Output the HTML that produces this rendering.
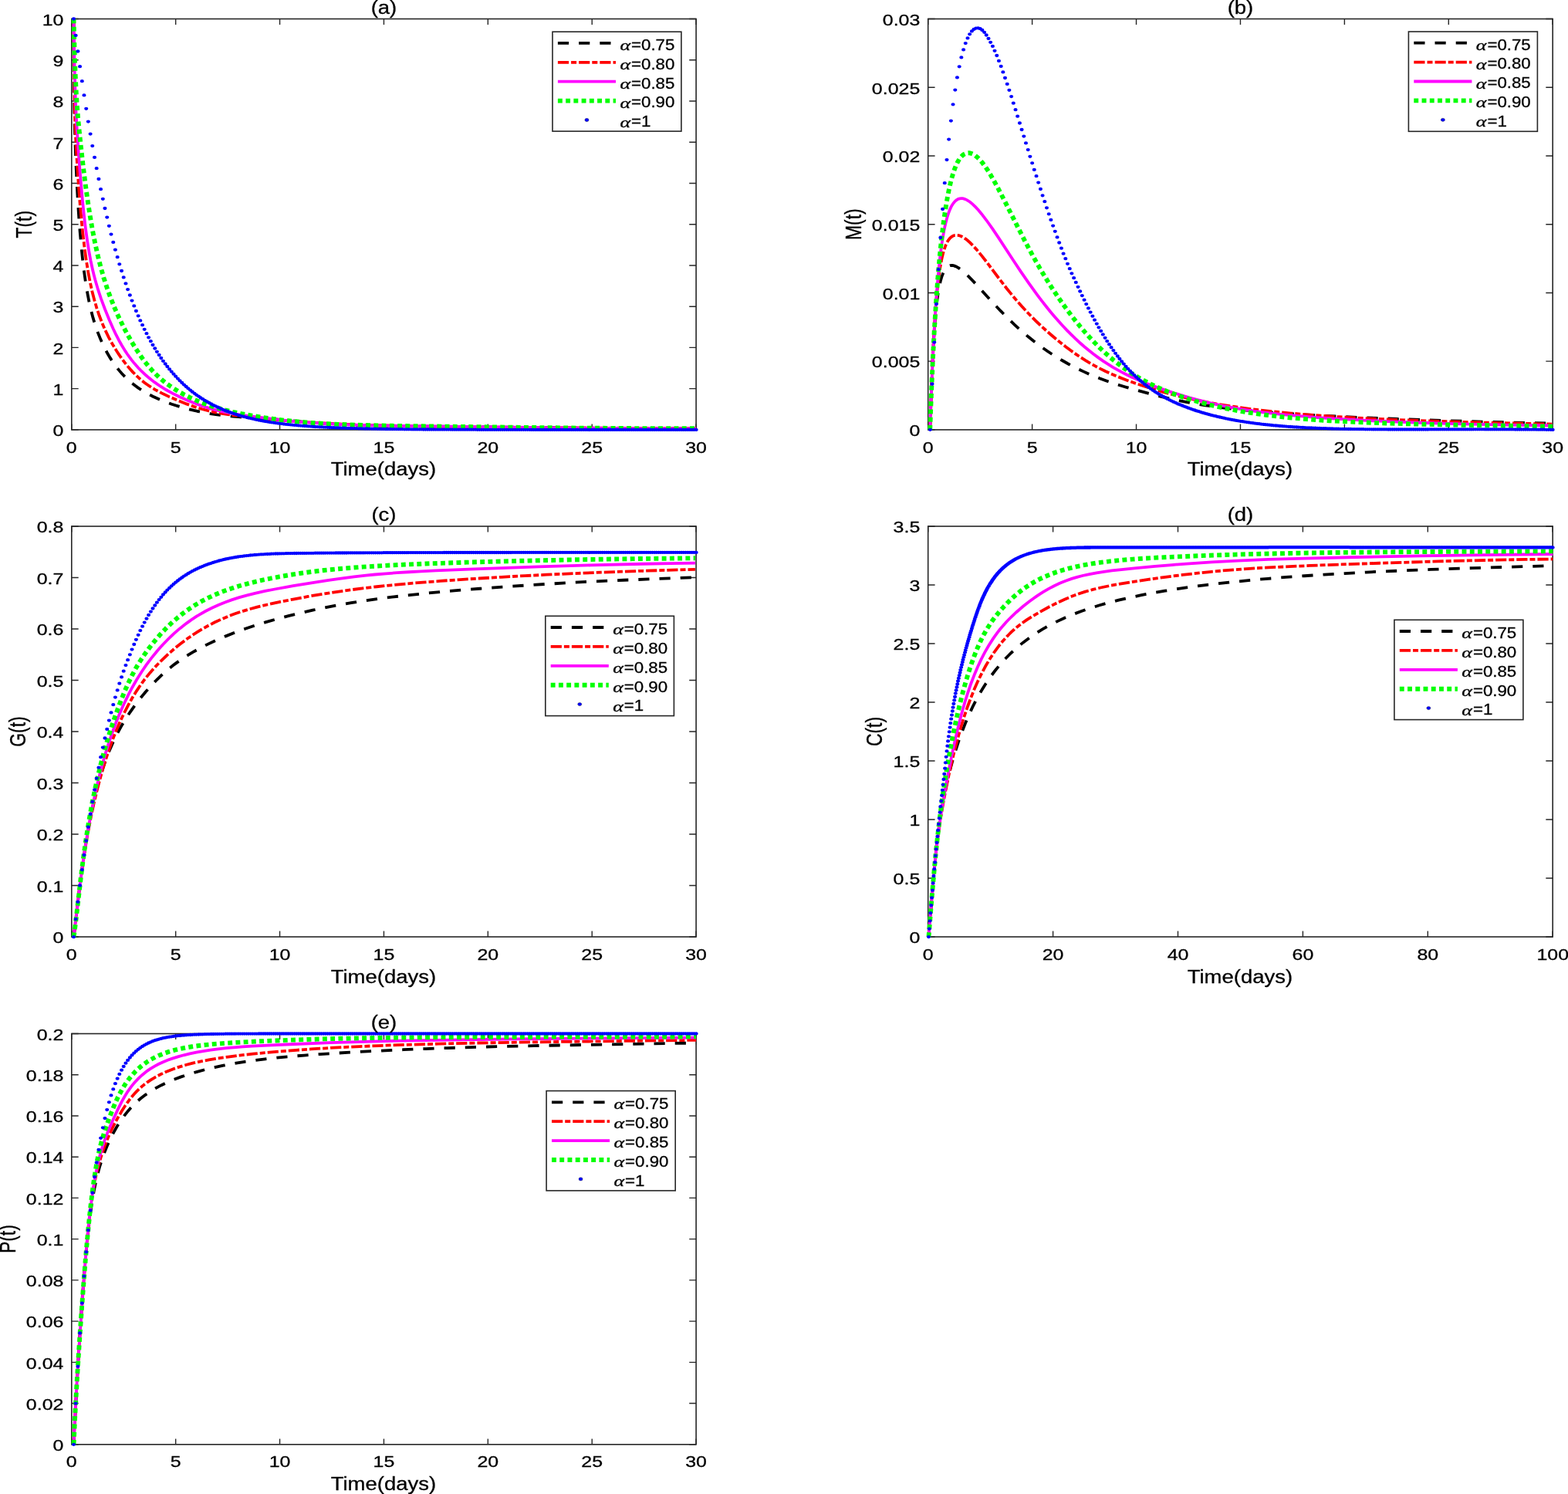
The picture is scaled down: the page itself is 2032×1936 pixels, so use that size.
<!DOCTYPE html>
<html lang="en"><head><meta charset="utf-8"><title>Figure</title>
<style>html,body{margin:0;padding:0;background:#fff}body{width:2032px;height:1936px;overflow:hidden}svg{display:block}</style>
</head><body>
<svg xmlns="http://www.w3.org/2000/svg" width="2032" height="1936" viewBox="0 0 2032 1936">
<rect width="2032" height="1936" fill="#fff"/>
<g>
<g>
<path d="M92.8 556.9v-7.4M92.8 24.5v7.4M227.68 556.9v-7.4M227.68 24.5v7.4M362.57 556.9v-7.4M362.57 24.5v7.4M497.45 556.9v-7.4M497.45 24.5v7.4M632.33 556.9v-7.4M632.33 24.5v7.4M767.22 556.9v-7.4M767.22 24.5v7.4M902.1 556.9v-7.4M902.1 24.5v7.4M92.8 556.9h8.88M902.1 556.9h-8.88M92.8 503.66h8.88M902.1 503.66h-8.88M92.8 450.42h8.88M902.1 450.42h-8.88M92.8 397.18h8.88M902.1 397.18h-8.88M92.8 343.94h8.88M902.1 343.94h-8.88M92.8 290.7h8.88M902.1 290.7h-8.88M92.8 237.46h8.88M902.1 237.46h-8.88M92.8 184.22h8.88M902.1 184.22h-8.88M92.8 130.98h8.88M902.1 130.98h-8.88M92.8 77.74h8.88M902.1 77.74h-8.88M92.8 24.5h8.88M902.1 24.5h-8.88" stroke="#262626" stroke-width="1.4" fill="none"/>
<rect x="92.8" y="24.5" width="809.3" height="532.4" fill="none" stroke="#262626" stroke-width="1.6"/>
<clipPath id="ca"><rect x="88.8" y="20.5" width="817.3" height="540.4"/></clipPath>
<g clip-path="url(#ca)">
<path d="M95.5 24.49L95.93 104.72L96.17 130.67L96.46 149.57L96.95 168.49L97.86 195.98L98.75 218.55L99.71 239.36L100.91 261.29L102.22 281.45L103.71 300.98L105.41 320.02L107.16 336.78L109.02 352.11L111.1 366.77L113.3 379.97L115.61 391.76L118 402.24L120.62 412.18L123.51 421.62L126.68 430.63L130.39 439.85L134.24 448.27L138.47 456.46L142.82 463.89L145.3 467.75L147.57 471.07L152.4 477.52L154.96 480.64L157.64 483.7L160.43 486.69L163.33 489.61L166.36 492.45L169.06 494.83L172.33 497.53L175.24 499.78L178.77 502.34L181.91 504.47L185.72 506.88L189.69 509.22L193.83 511.49L198.14 513.69L202.64 515.82L207.32 517.88L212.2 519.88L217.29 521.81L222.59 523.69L228.12 525.5L233.87 527.26L239.87 528.96L251.69 531.94L258.44 533.42L264.46 534.62L272.81 536.1L281.57 537.42L290.75 538.57L299.14 539.43L311.75 540.41L337.86 542L351.29 542.94L363.83 544.01L396.11 546.98L414.61 548.46L436.26 549.78L459.36 550.76L486.32 551.54L520.29 552.15L778.68 554.88L842.21 555.25L902 555.3" stroke="#000000" stroke-width="3.8" stroke-dasharray="14.2 13" fill="none"/>
<path d="M95.5 24.48L96.17 101.28L96.55 128.12L96.95 148.22L97.36 161.92L97.83 173.24L98.97 194.96L100.21 216.07L101.85 240.51L103.57 262.92L105.41 283.74L107.44 303.54L109.55 321.24L111.81 337.55L114.22 352.36L116.77 365.7L119.44 377.7L122.21 388.49L125.25 398.84L128.6 408.79L132.27 418.41L136.31 427.75L140.74 436.85L145.3 445.22L150.63 454.04L153.48 458.43L156.48 462.8L159.62 467.15L162.49 470.91L165.48 474.62L168.6 478.26L171.85 481.83L174.75 484.82L177.74 487.73L180.85 490.55L184.07 493.28L187.4 495.91L190.27 498.02L193.83 500.45L197.52 502.8L201.34 505.06L209.39 509.39L218.78 513.89L230.55 518.99L241.63 523.41L251.69 527L261.42 530.04L270.68 532.5L278.23 534.18L286.1 535.64L295.5 537.1L305.35 538.4L321.03 540.19L346.73 542.89L363.83 544.52L380.37 545.91L396.11 547.04L412.71 548.07L430.22 548.99L450.78 549.89L470.36 550.61L493.37 551.3L543.66 552.43L600.24 553.26L667.29 553.91L743.17 554.43L902 555.3" stroke="#ff0000" stroke-width="3.8" stroke-dasharray="14.2 3 7 3" fill="none"/>
<path d="M95.5 24.52L96.03 58.87L96.61 87.66L97.22 111.34L97.94 132.58L98.67 148.94L99.57 165.1L101.14 188.94L102.81 212.03L104.69 235.46L106.7 257.7L108.71 277.28L110.87 295.64L113.05 311.63L115.18 325.17L117.53 337.88L120.28 350.56L121.85 356.98L123.51 363.25L127.09 375.42L131.08 387.36L136.04 400.74L141.62 414.58L146.91 426.54L149.59 432.16L152.4 437.73L154.96 442.54L157.64 447.28L162.49 455.17L165.05 458.98L167.7 462.7L170.44 466.34L173.29 469.88L176.23 473.34L179.28 476.7L182.45 479.99L185.72 483.18L189.12 486.3L192.63 489.33L196.27 492.28L200.05 495.15L207.32 500.21L215.08 505.03L223.37 509.63L232.2 514.04L241.63 518.27L251.69 522.33L261.42 525.84L271.74 529.1L281.57 531.76L289.57 533.62L299.14 535.49L309.17 537.15L321.03 538.84L345.23 541.92L365.44 544.3L382.08 546.03L397.91 547.41L408.95 548.21L422.32 549.03L436.26 549.73L450.78 550.33L481.7 551.26L520.29 552.01L667.29 553.77L747.02 554.57L824.71 555.1L902 555.3" stroke="#ff00ff" stroke-width="3.8" fill="none"/>
<path d="M95.5 24.49L96.2 53.5L96.98 79.34L97.86 101.89L98.84 121.3L99.86 137.31L101.08 152.7L102.55 168.14L104.93 190.76L107.82 216.11L110.76 239.44L113.69 260.46L116.77 280.26L119.94 298.46L123.32 315.69L126.88 331.76L130.62 346.53L134.49 360.06L138.75 373.27L141.03 379.79L143.43 386.25L148.23 398.25L153.48 410.16L159.22 422.02L162.49 428.34L165.48 433.87L171.85 444.96L175.24 450.5L178.25 455.22L184.07 463.73L187.4 468.26L190.27 471.94L193.23 475.53L196.27 479.02L199.41 482.39L202.64 485.64L205.96 488.76L209.39 491.77L212.92 494.67L216.55 497.47L220.29 500.17L224.15 502.79L231.38 507.28L239 511.54L247.04 515.58L255.52 519.39L264.46 522.96L272.81 525.92L281.57 528.67L290.75 531.21L301.6 533.81L313.05 536.2L326.51 538.65L340.78 540.94L354.37 542.89L368.69 544.69L383.8 546.29L397.91 547.52L408.95 548.31L422.32 549.12L448.67 550.3L479.4 551.22L515.27 551.92L674.12 553.84L747.02 554.59L824.71 555.12L902 555.3" stroke="#00ff00" stroke-width="5.9" stroke-dasharray="5.9 4.34" fill="none"/>
<path transform="scale(1.2 1)" d="M79.6 24.5h0M81.8 45.9h0M84.1 66.5h0M86.3 86.2h0M88.6 105.2h0M90.8 123.4h0M93.1 140.8h0M95.3 157.6h0M97.6 173.6h0M99.8 189.1h0M102.1 203.9h0M104.3 218.2h0M106.6 232h0M108.8 245.2h0M111.1 257.8h0M113.3 270h0M115.6 281.6h0M117.8 292.8h0M120 303.6h0M122.3 313.9h0M124.5 323.7h0M126.8 333.2h0M129 342.3h0M131.3 351h0M133.5 359.4h0M135.8 367.4h0M138 375.1h0M140.3 382.5h0M142.5 389.6h0M144.8 396.4h0M147 403h0M149.3 409.3h0M151.5 415.4h0M153.8 421.2h0M156 426.8h0M158.3 432.2h0M160.5 437.3h0M162.8 442.2h0M165 447h0M167.3 451.5h0M169.5 455.8h0M171.8 460h0M174 464h0M176.2 467.8h0M178.5 471.5h0M180.7 475h0M183 478.4h0M185.2 481.6h0M187.5 484.7h0M189.7 487.7h0M192 490.6h0M194.2 493.3h0M196.5 496h0M198.7 498.6h0M201 501h0M203.2 503.3h0M205.5 505.6h0M207.7 507.7h0M210 509.8h0M212.2 511.8h0M214.5 513.6h0M216.7 515.5h0M219 517.2h0M221.2 518.9h0M223.5 520.5h0M225.7 522h0M228 523.5h0M230.2 524.9h0M232.4 526.2h0M234.7 527.5h0M236.9 528.7h0M239.2 529.9h0M241.4 531.1h0M243.7 532.2h0M245.9 533.2h0M248.2 534.2h0M250.4 535.1h0M252.7 536.1h0M254.9 536.9h0M257.2 537.8h0M259.4 538.6h0M261.7 539.4h0M263.9 540.1h0M266.2 540.8h0M268.4 541.5h0M270.7 542.1h0M272.9 542.7h0M275.2 543.3h0M277.4 543.9h0M279.7 544.5h0M281.9 545h0M284.2 545.5h0M286.4 546h0M288.7 546.4h0M290.9 546.9h0M293.1 547.3h0M295.4 547.7h0M297.6 548.1h0M299.9 548.4h0M302.1 548.8h0M304.4 549.1h0M306.6 549.5h0M308.9 549.8h0M311.1 550.1h0M313.4 550.3h0M315.6 550.6h0M317.9 550.9h0M320.1 551.1h0M322.4 551.4h0M324.6 551.6h0M326.9 551.8h0M329.1 552h0M331.4 552.2h0M333.6 552.4h0M335.9 552.6h0M338.1 552.8h0M340.4 553h0M342.6 553.1h0M344.9 553.3h0M347.1 553.4h0M349.3 553.6h0M351.6 553.7h0M353.8 553.8h0M356.1 554h0M358.3 554.1h0M360.6 554.2h0M362.8 554.3h0M365.1 554.4h0M367.3 554.5h0M369.6 554.6h0M371.8 554.7h0M374.1 554.8h0M376.3 554.9h0M378.6 555h0M380.8 555.1h0M383.1 555.1h0M385.3 555.2h0M387.6 555.3h0M389.8 555.3h0M392.1 555.4h0M394.3 555.5h0M396.6 555.5h0M398.8 555.6h0M401.1 555.6h0M403.3 555.7h0M405.5 555.7h0M407.8 555.8h0M410 555.8h0M412.3 555.9h0M414.5 555.9h0M416.8 556h0M419 556h0M421.3 556h0M423.5 556.1h0M425.8 556.1h0M428 556.1h0M430.3 556.2h0M432.5 556.2h0M434.8 556.2h0M437 556.3h0M439.3 556.3h0M441.5 556.3h0M443.8 556.3h0M446 556.4h0M448.3 556.4h0M450.5 556.4h0M452.8 556.4h0M455 556.4h0M457.3 556.5h0M459.5 556.5h0M461.8 556.5h0M464 556.5h0M466.2 556.5h0M468.5 556.5h0M470.7 556.6h0M473 556.6h0M475.2 556.6h0M477.5 556.6h0M479.7 556.6h0M482 556.6h0M484.2 556.6h0M486.5 556.6h0M488.7 556.7h0M491 556.7h0M493.2 556.7h0M495.5 556.7h0M497.7 556.7h0M500 556.7h0M502.2 556.7h0M504.5 556.7h0M506.7 556.7h0M509 556.7h0M511.2 556.7h0M513.5 556.7h0M515.7 556.8h0M518 556.8h0M520.2 556.8h0M522.4 556.8h0M524.7 556.8h0M526.9 556.8h0M529.2 556.8h0M531.4 556.8h0M533.7 556.8h0M535.9 556.8h0M538.2 556.8h0M540.4 556.8h0M542.7 556.8h0M544.9 556.8h0M547.2 556.8h0M549.4 556.8h0M551.7 556.8h0M553.9 556.8h0M556.2 556.8h0M558.4 556.8h0M560.7 556.8h0M562.9 556.8h0M565.2 556.8h0M567.4 556.8h0M569.7 556.8h0M571.9 556.8h0M574.2 556.9h0M576.4 556.9h0M578.6 556.9h0M580.9 556.9h0M583.1 556.9h0M585.4 556.9h0M587.6 556.9h0M589.9 556.9h0M592.1 556.9h0M594.4 556.9h0M596.6 556.9h0M598.9 556.9h0M601.1 556.9h0M603.4 556.9h0M605.6 556.9h0M607.9 556.9h0M610.1 556.9h0M612.4 556.9h0M614.6 556.9h0M616.9 556.9h0M619.1 556.9h0M621.4 556.9h0M623.6 556.9h0M625.9 556.9h0M628.1 556.9h0M630.4 556.9h0M632.6 556.9h0M634.9 556.9h0M637.1 556.9h0M639.3 556.9h0M641.6 556.9h0M643.8 556.9h0M646.1 556.9h0M648.3 556.9h0M650.6 556.9h0M652.8 556.9h0M655.1 556.9h0M657.3 556.9h0M659.6 556.9h0M661.8 556.9h0M664.1 556.9h0M666.3 556.9h0M668.6 556.9h0M670.8 556.9h0M673.1 556.9h0M675.3 556.9h0M677.6 556.9h0M679.8 556.9h0M682.1 556.9h0M684.3 556.9h0M686.6 556.9h0M688.8 556.9h0M691.1 556.9h0M693.3 556.9h0M695.5 556.9h0M697.8 556.9h0M700 556.9h0M702.3 556.9h0M704.5 556.9h0M706.8 556.9h0M709 556.9h0M711.3 556.9h0M713.5 556.9h0M715.8 556.9h0M718 556.9h0M720.3 556.9h0M722.5 556.9h0M724.8 556.9h0M727 556.9h0M729.3 556.9h0M731.5 556.9h0M733.8 556.9h0M736 556.9h0M738.3 556.9h0M740.5 556.9h0M742.8 556.9h0M745 556.9h0M747.3 556.9h0M749.5 556.9h0M751.8 556.9h0" stroke="#0000ff" stroke-width="4.3" stroke-linecap="round" fill="none"/>
</g>
<rect x="716" y="41.2" width="166.9" height="128.9" fill="#fff" stroke="#262626" stroke-width="1.6"/>
<g font-family="'Liberation Sans', Arial, Helvetica, sans-serif" fill="#000" stroke="#000" stroke-width="0.3">
<path d="M722.9 55.9H798" stroke="#000000" stroke-width="3.8" stroke-dasharray="14.2 13" fill="none"/>
<text transform="translate(803.4 64.9) scale(1.35 1)" font-family="'Liberation Serif', 'DejaVu Serif', serif" font-style="italic" font-size="19.2">α</text>
<text transform="translate(818 64.7) scale(1.1423 1)" font-size="19.5">=0.75</text>
<path d="M722.9 80.8H798" stroke="#ff0000" stroke-width="3.8" stroke-dasharray="14.2 3 7 3" fill="none"/>
<text transform="translate(803.4 89.8) scale(1.35 1)" font-family="'Liberation Serif', 'DejaVu Serif', serif" font-style="italic" font-size="19.2">α</text>
<text transform="translate(818 89.6) scale(1.1423 1)" font-size="19.5">=0.80</text>
<path d="M722.9 105.7H798" stroke="#ff00ff" stroke-width="3.8" fill="none"/>
<text transform="translate(803.4 114.7) scale(1.35 1)" font-family="'Liberation Serif', 'DejaVu Serif', serif" font-style="italic" font-size="19.2">α</text>
<text transform="translate(818 114.5) scale(1.1423 1)" font-size="19.5">=0.85</text>
<path d="M722.9 130.6H798" stroke="#00ff00" stroke-width="5.9" stroke-dasharray="5.9 4.34" fill="none"/>
<text transform="translate(803.4 139.6) scale(1.35 1)" font-family="'Liberation Serif', 'DejaVu Serif', serif" font-style="italic" font-size="19.2">α</text>
<text transform="translate(818 139.4) scale(1.1423 1)" font-size="19.5">=0.90</text>
<ellipse cx="760.45" cy="155.5" rx="2.58" ry="2.15" fill="#0000ff"/>
<text transform="translate(803.4 164.5) scale(1.35 1)" font-family="'Liberation Serif', 'DejaVu Serif', serif" font-style="italic" font-size="19.2">α</text>
<text transform="translate(818 164.3) scale(1.1423 1)" font-size="19.5">=1</text>
</g>
<g font-family="'Liberation Sans', Arial, Helvetica, sans-serif" fill="#000" stroke="#000" stroke-width="0.3">
<text transform="translate(92.8 586.5) scale(1.1885 1)" font-size="21" text-anchor="middle">0</text>
<text transform="translate(227.68 586.5) scale(1.1885 1)" font-size="21" text-anchor="middle">5</text>
<text transform="translate(362.57 586.5) scale(1.1885 1)" font-size="21" text-anchor="middle">10</text>
<text transform="translate(497.45 586.5) scale(1.1885 1)" font-size="21" text-anchor="middle">15</text>
<text transform="translate(632.33 586.5) scale(1.1885 1)" font-size="21" text-anchor="middle">20</text>
<text transform="translate(767.22 586.5) scale(1.1885 1)" font-size="21" text-anchor="middle">25</text>
<text transform="translate(902.1 586.5) scale(1.1885 1)" font-size="21" text-anchor="middle">30</text>
<text transform="translate(82.4 565.2) scale(1.1885 1)" font-size="21" text-anchor="end">0</text>
<text transform="translate(82.4 511.96) scale(1.1885 1)" font-size="21" text-anchor="end">1</text>
<text transform="translate(82.4 458.72) scale(1.1885 1)" font-size="21" text-anchor="end">2</text>
<text transform="translate(82.4 405.48) scale(1.1885 1)" font-size="21" text-anchor="end">3</text>
<text transform="translate(82.4 352.24) scale(1.1885 1)" font-size="21" text-anchor="end">4</text>
<text transform="translate(82.4 299) scale(1.1885 1)" font-size="21" text-anchor="end">5</text>
<text transform="translate(82.4 245.76) scale(1.1885 1)" font-size="21" text-anchor="end">6</text>
<text transform="translate(82.4 192.52) scale(1.1885 1)" font-size="21" text-anchor="end">7</text>
<text transform="translate(82.4 139.28) scale(1.1885 1)" font-size="21" text-anchor="end">8</text>
<text transform="translate(82.4 86.04) scale(1.1885 1)" font-size="21" text-anchor="end">9</text>
<text transform="translate(82.4 32.8) scale(1.1885 1)" font-size="21" text-anchor="end">10</text>
<text transform="translate(496.95 615.8) scale(1.1538 1)" font-size="23.84" text-anchor="middle">Time(days)</text>
<text transform="translate(497.45 17.5) scale(1.1538 1)" font-size="23.84" text-anchor="middle">(a)</text>
<text transform="translate(40.8 290.7) scale(1.2000 1) rotate(-90) scale(0.9615 1)" font-size="23.84" text-anchor="middle">T(t)</text>
</g>
</g>
<g>
<path d="M1202.7 556.9v-7.4M1202.7 24.5v7.4M1337.62 556.9v-7.4M1337.62 24.5v7.4M1472.53 556.9v-7.4M1472.53 24.5v7.4M1607.45 556.9v-7.4M1607.45 24.5v7.4M1742.37 556.9v-7.4M1742.37 24.5v7.4M1877.28 556.9v-7.4M1877.28 24.5v7.4M2012.2 556.9v-7.4M2012.2 24.5v7.4M1202.7 556.9h8.88M2012.2 556.9h-8.88M1202.7 468.17h8.88M2012.2 468.17h-8.88M1202.7 379.43h8.88M2012.2 379.43h-8.88M1202.7 290.7h8.88M2012.2 290.7h-8.88M1202.7 201.97h8.88M2012.2 201.97h-8.88M1202.7 113.23h8.88M2012.2 113.23h-8.88M1202.7 24.5h8.88M2012.2 24.5h-8.88" stroke="#262626" stroke-width="1.4" fill="none"/>
<rect x="1202.7" y="24.5" width="809.5" height="532.4" fill="none" stroke="#262626" stroke-width="1.6"/>
<clipPath id="cb"><rect x="1198.7" y="20.5" width="817.5" height="540.4"/></clipPath>
<g clip-path="url(#cb)">
<path d="M1205.2 556.8L1206.23 525.1L1207.29 496.61L1208.37 471.54L1209.5 449.25L1210.64 430.44L1211.81 414.57L1213.13 400.15L1214.55 387.93L1216.12 377.21L1217.03 372.19L1217.89 368.03L1218.91 363.82L1219.87 360.38L1220.89 357.27L1221.97 354.49L1223.1 352.02L1224.3 349.88L1225.56 348.07L1226.89 346.58L1228.3 345.42L1229.78 344.59L1231.35 344.08L1233 343.89L1234.54 343.99L1236.37 344.39L1238.29 345.1L1240.33 346.1L1242.47 347.4L1244.73 348.98L1247.12 350.85L1249.64 353L1255.1 358.14L1261.89 365.12L1268.74 372.51L1286.34 391.85L1296.52 402.69L1306.02 412.34L1315.12 421.07L1321.38 426.78L1327.23 431.9L1333.37 437.04L1338.98 441.55L1344.84 446.04L1350.94 450.52L1357.31 454.96L1362.98 458.74L1369.85 463.09L1375.98 466.77L1383.4 470.99L1390.02 474.53L1396.88 478L1403.99 481.39L1411.36 484.69L1418.99 487.88L1425.56 490.47L1433.72 493.46L1440.73 495.89L1449.44 498.72L1458.45 501.49L1467.8 504.21L1489.23 510.07L1499.7 512.75L1508.71 514.94L1525.62 518.72L1535.42 520.7L1543.46 522.2L1551.71 523.63L1562.29 525.32L1582.15 528.09L1603.1 530.53L1625.21 532.68L1651.2 534.79L1681.63 536.82L1717.18 538.81L1762 540.95L1810.72 542.96L1859.73 544.71L1908.47 546.2L1960.82 547.56L2012.2 548.7" stroke="#000000" stroke-width="3.8" stroke-dasharray="14.2 13" fill="none"/>
<path d="M1205.2 556.79L1206.69 515.36L1208.05 481.35L1209.35 452.52L1210.69 427.27L1212.06 405.82L1213.49 387.6L1215.11 370.91L1216.84 356.59L1217.8 350.03L1218.8 343.89L1219.87 338.17L1221.01 332.88L1222.21 328.03L1223.36 324.05L1224.71 320.06L1226 316.86L1227.51 313.75L1228.95 311.35L1230.47 309.32L1232.07 307.66L1233.76 306.38L1235.54 305.45L1237.42 304.89L1239.41 304.68L1241.74 304.9L1243.96 305.49L1246.31 306.48L1248.78 307.85L1251.39 309.63L1254.15 311.82L1257.05 314.42L1260.47 317.8L1265.99 323.85L1272.02 331.1L1278.16 338.96L1295.39 361.86L1304.17 373.22L1313.77 385.05L1318.55 390.66L1323.54 396.29L1329.5 402.77L1335.75 409.26L1342.3 415.78L1348.3 421.5L1354.55 427.24L1361.06 432.99L1367.86 438.75L1374.94 444.52L1381.25 449.45L1387.79 454.32L1394.57 459.12L1400.4 463.05L1406.42 466.87L1412.61 470.59L1418.99 474.19L1425.56 477.64L1432.34 480.96L1439.31 484.16L1446.5 487.25L1453.91 490.24L1461.53 493.15L1469.39 495.98L1477.49 498.76L1487.53 502.02L1497.93 505.21L1506.89 507.81L1517.99 510.83L1527.56 513.26L1539.42 516.06L1549.63 518.28L1560.15 520.41L1570.98 522.43L1582.15 524.36L1593.65 526.19L1605.5 527.93L1617.7 529.58L1630.28 531.14L1643.24 532.61L1656.58 534.01L1673.13 535.58L1702.06 537.96L1735.94 540.26L1768.72 542.08L1807.1 543.84L1848.08 545.38L1895.96 546.86L1947.38 548.18L2012.2 549.6" stroke="#ff0000" stroke-width="3.8" stroke-dasharray="14.2 3 7 3" fill="none"/>
<path d="M1205.2 556.79L1206.79 513.26L1208.37 475.19L1210.05 440.47L1211.75 410.55L1213.56 383.8L1215.44 360.77L1217.5 339.82L1218.6 330.33L1219.76 321.24L1220.89 313.38L1222.09 305.94L1223.36 298.96L1224.71 292.45L1226.15 286.43L1227.51 281.46L1228.95 276.91L1230.47 272.81L1232.07 269.16L1233.76 265.98L1235.54 263.27L1237.42 261.04L1239.41 259.31L1240.56 258.56L1241.5 258.07L1242.72 257.61L1243.71 257.35L1245.78 257.13L1247.12 257.2L1248.5 257.44L1249.93 257.83L1251.39 258.4L1252.9 259.12L1254.46 260.01L1257.38 262.04L1260.47 264.61L1264.09 268.11L1267.94 272.29L1272.02 277.16L1278.62 285.76L1286.34 296.65L1293.73 307.64L1313.1 337.28L1322.81 351.85L1333.37 367.14L1343.99 381.82L1350.06 389.86L1355.46 396.79L1361.06 403.72L1365.89 409.49L1371.87 416.36L1377.02 422.04L1382.32 427.66L1387.79 433.2L1393.42 438.65L1399.22 443.99L1405.2 449.22L1411.36 454.32L1417.7 459.28L1422.91 463.14L1429.6 467.83L1435.1 471.45L1442.16 475.81L1447.96 479.17L1453.91 482.39L1459.99 485.49L1466.22 488.47L1472.6 491.34L1479.14 494.11L1487.53 497.46L1497.93 501.34L1508.71 505.09L1519.88 508.76L1531.46 512.36L1541.43 515.29L1551.71 518.12L1562.29 520.83L1573.19 523.4L1582.15 525.33L1591.32 527.15L1600.72 528.86L1612.78 530.84L1622.69 532.31L1635.42 534.02L1648.53 535.6L1662.03 537.06L1675.95 538.41L1693.2 539.9L1708.06 541.06L1726.48 542.35L1762 544.45L1782.38 545.47L1803.51 546.4L1848.08 548.02L1895.96 549.36L1951.83 550.54L2012.2 551.5" stroke="#ff00ff" stroke-width="3.8" fill="none"/>
<path d="M1205.2 556.79L1206.92 510.14L1208.76 467.74L1210.75 428.96L1212.93 393.32L1215.19 362.27L1217.7 333.46L1219.01 320.29L1220.43 307.3L1221.85 295.52L1223.36 283.98L1224.85 273.68L1226.44 263.71L1228.14 254.15L1229.78 245.88L1231.53 238.07L1233.38 230.8L1235.14 224.76L1237 219.25L1238.96 214.31L1241.03 209.97L1243.21 206.26L1245.25 203.51L1246.58 202.08L1247.67 201.08L1248.78 200.23L1249.93 199.52L1251.1 198.96L1252.29 198.56L1253.52 198.3L1254.78 198.2L1256.39 198.3L1257.72 198.56L1259.08 198.99L1260.47 199.58L1262.25 200.56L1263.72 201.54L1266.76 204.02L1269.95 207.23L1273.3 211.19L1276.8 215.91L1280.48 221.42L1283.36 226.07L1286.85 232.03L1293.73 244.58L1301.75 260.06L1319.96 296.25L1328.74 313.35L1338.17 330.98L1343.14 339.9L1347.42 347.35L1353.64 357.78L1359.17 366.73L1364.91 375.65L1370.86 384.56L1377.02 393.42L1382.32 400.77L1388.9 409.52L1394.57 416.74L1400.4 423.86L1406.42 430.88L1412.61 437.76L1418.99 444.49L1425.56 451.05L1430.97 456.16L1437.9 462.36L1443.6 467.15L1449.44 471.78L1455.41 476.25L1461.53 480.54L1467.8 484.64L1474.22 488.56L1480.79 492.3L1487.53 495.88L1496.17 500.11L1503.27 503.33L1512.39 507.14L1521.79 510.73L1531.46 514.12L1539.42 516.69L1549.63 519.74L1560.15 522.61L1570.98 525.32L1579.89 527.36L1591.32 529.76L1603.1 532L1615.23 534.08L1627.74 536L1640.61 537.76L1653.88 539.37L1667.55 540.84L1678.78 541.91L1693.2 543.14L1708.06 544.24L1723.36 545.23L1755.37 546.91L1789.34 548.24L1825.4 549.3L1867.62 550.25L1912.69 551.04L2012.2 552.6" stroke="#00ff00" stroke-width="5.9" stroke-dasharray="5.9 4.34" fill="none"/>
<path transform="scale(1.2 1)" d="M1004.5 556.8h0M1006.7 497.6h0M1009 443.6h0M1011.2 394h0M1013.5 349.2h0M1015.7 308h0M1018 271h0M1020.2 237.2h0M1022.5 207.1h0M1024.7 180.6h0M1027 156.6h0M1029.2 135.3h0M1031.5 116.6h0M1033.7 100.4h0M1036 86.3h0M1038.2 74.4h0M1040.5 64.4h0M1042.7 56.1h0M1045 49.4h0M1047.2 44.3h0M1049.5 40.4h0M1051.7 37.9h0M1054 36.6h0M1056.2 36.4h0M1058.5 37.2h0M1060.7 39h0M1063 41.8h0M1065.2 45.5h0M1067.5 49.9h0M1069.7 54.8h0M1072 59.9h0M1074.2 65.8h0M1076.5 72h0M1078.7 78.9h0M1081 85.9h0M1083.2 93.4h0M1085.4 101h0M1087.7 108.9h0M1089.9 116.8h0M1092.2 125.1h0M1094.4 133.7h0M1096.7 142.2h0M1098.9 150.7h0M1101.2 159.5h0M1103.4 168h0M1105.7 176.6h0M1107.9 185.4h0M1110.2 194.1h0M1112.4 202.8h0M1114.7 211.3h0M1116.9 219.9h0M1119.2 228.2h0M1121.4 236.6h0M1123.7 245h0M1125.9 253.3h0M1128.2 261.2h0M1130.4 269.3h0M1132.7 277.3h0M1134.9 284.9h0M1137.2 292.6h0M1139.4 299.8h0M1141.7 307.4h0M1143.9 314.5h0M1146.2 321.7h0M1148.4 328.7h0M1150.7 335.2h0M1152.9 341.8h0M1155.2 348.2h0M1157.4 354.3h0M1159.7 360.2h0M1161.9 365.9h0M1164.2 371.8h0M1166.4 377.5h0M1168.6 383.1h0M1170.9 388.7h0M1173.1 394.1h0M1175.4 399.4h0M1177.6 404.6h0M1179.9 409.7h0M1182.1 414.7h0M1184.4 419.6h0M1186.6 424.3h0M1188.9 428.9h0M1191.1 433.4h0M1193.4 437.8h0M1195.6 442.1h0M1197.9 446.2h0M1200.1 450.2h0M1202.4 454.1h0M1204.6 457.8h0M1206.9 461.5h0M1209.1 465h0M1211.4 468.4h0M1213.6 471.6h0M1215.9 474.8h0M1218.1 477.8h0M1220.4 480.7h0M1222.6 483.4h0M1224.9 486.1h0M1227.1 488.7h0M1229.4 491.1h0M1231.6 493.5h0M1233.9 495.7h0M1236.1 497.9h0M1238.4 500h0M1240.6 502h0M1242.9 503.9h0M1245.1 505.8h0M1247.3 507.6h0M1249.6 509.3h0M1251.8 510.9h0M1254.1 512.5h0M1256.3 514h0M1258.6 515.5h0M1260.8 516.9h0M1263.1 518.3h0M1265.3 519.6h0M1267.6 520.9h0M1269.8 522.1h0M1272.1 523.3h0M1274.3 524.4h0M1276.6 525.5h0M1278.8 526.6h0M1281.1 527.6h0M1283.3 528.7h0M1285.6 529.6h0M1287.8 530.6h0M1290.1 531.5h0M1292.3 532.4h0M1294.6 533.2h0M1296.8 534.1h0M1299.1 534.9h0M1301.3 535.7h0M1303.6 536.4h0M1305.8 537.2h0M1308.1 537.9h0M1310.3 538.6h0M1312.6 539.2h0M1314.8 539.9h0M1317.1 540.5h0M1319.3 541.1h0M1321.6 541.7h0M1323.8 542.3h0M1326 542.8h0M1328.3 543.4h0M1330.5 543.9h0M1332.8 544.4h0M1335 544.9h0M1337.3 545.3h0M1339.5 545.8h0M1341.8 546.2h0M1344 546.6h0M1346.3 547.1h0M1348.5 547.4h0M1350.8 547.8h0M1353 548.2h0M1355.3 548.6h0M1357.5 548.9h0M1359.8 549.2h0M1362 549.6h0M1364.3 549.9h0M1366.5 550.2h0M1368.8 550.4h0M1371 550.7h0M1373.3 551h0M1375.5 551.3h0M1377.8 551.5h0M1380 551.7h0M1382.3 552h0M1384.5 552.2h0M1386.8 552.4h0M1389 552.6h0M1391.3 552.8h0M1393.5 553h0M1395.8 553.2h0M1398 553.4h0M1400.3 553.5h0M1402.5 553.7h0M1404.8 553.8h0M1407 554h0M1409.2 554.1h0M1411.5 554.3h0M1413.7 554.4h0M1416 554.5h0M1418.2 554.6h0M1420.5 554.7h0M1422.7 554.9h0M1425 555h0M1427.2 555.1h0M1429.5 555.2h0M1431.7 555.2h0M1434 555.3h0M1436.2 555.4h0M1438.5 555.5h0M1440.7 555.6h0M1443 555.6h0M1445.2 555.7h0M1447.5 555.8h0M1449.7 555.8h0M1452 555.9h0M1454.2 555.9h0M1456.5 556h0M1458.7 556h0M1461 556.1h0M1463.2 556.1h0M1465.5 556.1h0M1467.7 556.2h0M1470 556.2h0M1472.2 556.2h0M1474.5 556.3h0M1476.7 556.3h0M1479 556.3h0M1481.2 556.3h0M1483.5 556.4h0M1485.7 556.4h0M1488 556.4h0M1490.2 556.4h0M1492.4 556.4h0M1494.7 556.4h0M1496.9 556.4h0M1499.2 556.5h0M1501.4 556.5h0M1503.7 556.5h0M1505.9 556.5h0M1508.2 556.5h0M1510.4 556.5h0M1512.7 556.5h0M1514.9 556.5h0M1517.2 556.5h0M1519.4 556.5h0M1521.7 556.5h0M1523.9 556.5h0M1526.2 556.5h0M1528.4 556.5h0M1530.7 556.5h0M1532.9 556.5h0M1535.2 556.5h0M1537.4 556.5h0M1539.7 556.5h0M1541.9 556.5h0M1544.2 556.4h0M1546.4 556.4h0M1548.7 556.4h0M1550.9 556.4h0M1553.2 556.4h0M1555.4 556.4h0M1557.7 556.4h0M1559.9 556.4h0M1562.2 556.4h0M1564.4 556.4h0M1566.7 556.4h0M1568.9 556.4h0M1571.1 556.4h0M1573.4 556.4h0M1575.6 556.4h0M1577.9 556.4h0M1580.1 556.4h0M1582.4 556.4h0M1584.6 556.4h0M1586.9 556.4h0M1589.1 556.4h0M1591.4 556.3h0M1593.6 556.3h0M1595.9 556.3h0M1598.1 556.3h0M1600.4 556.3h0M1602.6 556.3h0M1604.9 556.4h0M1607.1 556.4h0M1609.4 556.4h0M1611.6 556.4h0M1613.9 556.4h0M1616.1 556.4h0M1618.4 556.4h0M1620.6 556.4h0M1622.9 556.4h0M1625.1 556.4h0M1627.4 556.4h0M1629.6 556.4h0M1631.9 556.4h0M1634.1 556.4h0M1636.4 556.5h0M1638.6 556.5h0M1640.9 556.5h0M1643.1 556.5h0M1645.4 556.5h0M1647.6 556.5h0M1649.9 556.5h0M1652.1 556.6h0M1654.3 556.6h0M1656.6 556.6h0M1658.8 556.6h0M1661.1 556.7h0M1663.3 556.7h0M1665.6 556.7h0M1667.8 556.7h0M1670.1 556.8h0M1672.3 556.8h0M1674.6 556.8h0M1676.8 556.9h0" stroke="#0000ff" stroke-width="4.3" stroke-linecap="round" fill="none"/>
</g>
<rect x="1825.4" y="41" width="167" height="129.3" fill="#fff" stroke="#262626" stroke-width="1.6"/>
<g font-family="'Liberation Sans', Arial, Helvetica, sans-serif" fill="#000" stroke="#000" stroke-width="0.3">
<path d="M1832.3 55.7H1907.4" stroke="#000000" stroke-width="3.8" stroke-dasharray="14.2 13" fill="none"/>
<text transform="translate(1912.8 64.7) scale(1.35 1)" font-family="'Liberation Serif', 'DejaVu Serif', serif" font-style="italic" font-size="19.2">α</text>
<text transform="translate(1927.4 64.5) scale(1.1423 1)" font-size="19.5">=0.75</text>
<path d="M1832.3 80.6H1907.4" stroke="#ff0000" stroke-width="3.8" stroke-dasharray="14.2 3 7 3" fill="none"/>
<text transform="translate(1912.8 89.6) scale(1.35 1)" font-family="'Liberation Serif', 'DejaVu Serif', serif" font-style="italic" font-size="19.2">α</text>
<text transform="translate(1927.4 89.4) scale(1.1423 1)" font-size="19.5">=0.80</text>
<path d="M1832.3 105.5H1907.4" stroke="#ff00ff" stroke-width="3.8" fill="none"/>
<text transform="translate(1912.8 114.5) scale(1.35 1)" font-family="'Liberation Serif', 'DejaVu Serif', serif" font-style="italic" font-size="19.2">α</text>
<text transform="translate(1927.4 114.3) scale(1.1423 1)" font-size="19.5">=0.85</text>
<path d="M1832.3 130.4H1907.4" stroke="#00ff00" stroke-width="5.9" stroke-dasharray="5.9 4.34" fill="none"/>
<text transform="translate(1912.8 139.4) scale(1.35 1)" font-family="'Liberation Serif', 'DejaVu Serif', serif" font-style="italic" font-size="19.2">α</text>
<text transform="translate(1927.4 139.2) scale(1.1423 1)" font-size="19.5">=0.90</text>
<ellipse cx="1869.85" cy="155.3" rx="2.58" ry="2.15" fill="#0000ff"/>
<text transform="translate(1912.8 164.3) scale(1.35 1)" font-family="'Liberation Serif', 'DejaVu Serif', serif" font-style="italic" font-size="19.2">α</text>
<text transform="translate(1927.4 164.1) scale(1.1423 1)" font-size="19.5">=1</text>
</g>
<g font-family="'Liberation Sans', Arial, Helvetica, sans-serif" fill="#000" stroke="#000" stroke-width="0.3">
<text transform="translate(1202.7 586.5) scale(1.1885 1)" font-size="21" text-anchor="middle">0</text>
<text transform="translate(1337.62 586.5) scale(1.1885 1)" font-size="21" text-anchor="middle">5</text>
<text transform="translate(1472.53 586.5) scale(1.1885 1)" font-size="21" text-anchor="middle">10</text>
<text transform="translate(1607.45 586.5) scale(1.1885 1)" font-size="21" text-anchor="middle">15</text>
<text transform="translate(1742.37 586.5) scale(1.1885 1)" font-size="21" text-anchor="middle">20</text>
<text transform="translate(1877.28 586.5) scale(1.1885 1)" font-size="21" text-anchor="middle">25</text>
<text transform="translate(2012.2 586.5) scale(1.1885 1)" font-size="21" text-anchor="middle">30</text>
<text transform="translate(1192.3 565.2) scale(1.1885 1)" font-size="21" text-anchor="end">0</text>
<text transform="translate(1192.3 476.47) scale(1.1885 1)" font-size="21" text-anchor="end">0.005</text>
<text transform="translate(1192.3 387.73) scale(1.1885 1)" font-size="21" text-anchor="end">0.01</text>
<text transform="translate(1192.3 299) scale(1.1885 1)" font-size="21" text-anchor="end">0.015</text>
<text transform="translate(1192.3 210.27) scale(1.1885 1)" font-size="21" text-anchor="end">0.02</text>
<text transform="translate(1192.3 121.53) scale(1.1885 1)" font-size="21" text-anchor="end">0.025</text>
<text transform="translate(1192.3 32.8) scale(1.1885 1)" font-size="21" text-anchor="end">0.03</text>
<text transform="translate(1606.95 615.8) scale(1.1538 1)" font-size="23.84" text-anchor="middle">Time(days)</text>
<text transform="translate(1607.45 17.5) scale(1.1538 1)" font-size="23.84" text-anchor="middle">(b)</text>
<text transform="translate(1115.9 290.7) scale(1.2000 1) rotate(-90) scale(0.9615 1)" font-size="23.84" text-anchor="middle">M(t)</text>
</g>
</g>
<g>
<path d="M92.8 1214v-7.4M92.8 682v7.4M227.68 1214v-7.4M227.68 682v7.4M362.57 1214v-7.4M362.57 682v7.4M497.45 1214v-7.4M497.45 682v7.4M632.33 1214v-7.4M632.33 682v7.4M767.22 1214v-7.4M767.22 682v7.4M902.1 1214v-7.4M902.1 682v7.4M92.8 1214h8.88M902.1 1214h-8.88M92.8 1147.5h8.88M902.1 1147.5h-8.88M92.8 1081h8.88M902.1 1081h-8.88M92.8 1014.5h8.88M902.1 1014.5h-8.88M92.8 948h8.88M902.1 948h-8.88M92.8 881.5h8.88M902.1 881.5h-8.88M92.8 815h8.88M902.1 815h-8.88M92.8 748.5h8.88M902.1 748.5h-8.88M92.8 682h8.88M902.1 682h-8.88" stroke="#262626" stroke-width="1.4" fill="none"/>
<rect x="92.8" y="682" width="809.3" height="532" fill="none" stroke="#262626" stroke-width="1.6"/>
<clipPath id="cc"><rect x="88.8" y="678" width="817.3" height="540"/></clipPath>
<g clip-path="url(#cc)">
<path d="M95.5 1214.2L97.22 1200.56L102.94 1152L106.79 1122.47L109.12 1106.34L111.45 1091.49L113.95 1076.8L116.47 1063.21L119.27 1049.38L122.21 1036.18L125.25 1023.72L128.37 1012.08L131.55 1001.31L135 990.71L138.75 980.32L142.52 970.9L146.91 960.96L151.68 951.21L156.87 941.62L162.49 932.16L168.61 922.79L174.75 914.12L181.39 905.47L188.55 896.78L195.67 888.75L203.31 880.79L210.81 873.61L218.06 867.25L225.75 861.1L233.07 855.78L240.78 850.64L249.85 845.13L259.47 839.8L269.68 834.62L280.5 829.56L291.98 824.62L304.16 819.79L317.08 815.07L330.78 810.46L343.82 806.41L359.15 802.01L373.74 798.13L389.12 794.34L405.34 790.66L422.45 787.1L438.44 784.06L455.2 781.16L472.76 778.41L491.18 775.82L510.49 773.37L530.72 771.05L551.94 768.84L574.18 766.73L597.5 764.7L621.94 762.75L650.85 760.62L681.33 758.55L709.82 756.76L739.69 755.03L767 753.6L808.03 751.75L902.48 748.1" stroke="#000000" stroke-width="3.8" stroke-dasharray="14.2 13" fill="none"/>
<path d="M95.5 1214.2L102.28 1156.99L104.6 1138.9L106.96 1121.88L109.53 1104.87L112.28 1088.28L115.16 1072.38L118.13 1057.38L121.64 1041.14L125.22 1026.04L129 1011.45L132.96 997.42L137.06 984.05L141.57 970.56L146.21 957.85L150.92 945.99L155.65 935.04L160.77 924.2L165.85 914.31L171.3 904.58L176.65 895.86L182.35 887.36L185.62 882.83L188.44 879.12L194.33 871.88L201.22 864.13L208.57 856.55L217.15 848.38L225.57 840.98L230.4 837.01L234.56 833.73L243.24 827.29L252.46 821.05L261.23 815.62L269.43 810.98L278.02 806.54L287.03 802.33L295.26 798.84L303.85 795.57L312.8 792.51L322.12 789.68L333.25 786.67L346.43 783.49L361.91 780.14L380.02 776.53L399.35 772.95L416.12 770.08L433.81 767.29L452.46 764.62L469.89 762.38L488.16 760.26L507.31 758.27L527.39 756.39L548.44 754.61L570.5 752.91L596.59 751.08L620.98 749.51L649.83 747.79L680.25 746.13L708.67 744.71L738.47 743.34L769.71 742.04L832.4 739.78L900.89 737.81" stroke="#ff0000" stroke-width="3.8" stroke-dasharray="14.2 3 7 3" fill="none"/>
<path d="M95.5 1214.2L102.8 1153.21L105.24 1134.26L107.62 1117L110.29 1098.99L113.16 1081.26L116.02 1064.94L119.09 1048.78L122.55 1032.08L126.03 1016.66L129.67 1001.83L133.45 987.69L137.33 974.32L141.57 960.88L145.89 948.32L150.57 935.79L155.28 924.21L160.36 912.71L165.85 901.34L171.3 890.97L177.15 880.76L183.43 870.71L189.59 861.68L196.16 852.84L203.18 844.18L207.2 839.54L210.66 835.73L217.9 828.23L221.68 824.56L225.57 820.94L229.58 817.39L233.72 813.91L241.47 807.84L245.95 804.59L249.64 802.05L254.37 798.97L258.25 796.58L266.31 792L274.75 787.72L283.6 783.73L291.69 780.47L300.13 777.42L310.2 774.18L319.41 771.57L330.42 768.82L343.44 765.97L358.74 763L380.02 759.23L406.69 754.76L425.83 751.79L441.98 749.51L458.9 747.36L474.38 745.63L485.83 744.5L500.02 743.29L514.73 742.2L529.97 741.23L545.75 740.36L564.88 739.43L608.65 737.65L697.86 734.47L765.73 732.38L832.4 730.77L868.18 730.1L900.89 729.62" stroke="#ff00ff" stroke-width="3.8" fill="none"/>
<path d="M95.5 1214.2L96.51 1207.48L97.71 1198.24L104.68 1138.15L106.87 1120.51L109.01 1104.45L111.44 1087.57L113.94 1071.66L116.6 1056.07L119.42 1040.91L122.73 1024.5L126.44 1007.69L130.13 992.34L134.2 976.71L138.43 961.74L143.07 946.54L147.85 932.07L152.7 918.36L157.18 906.52L162 894.75L166.73 884.16L171.3 874.8L176.14 865.81L181.29 857.2L186.74 848.9L192.52 840.83L199.29 832.11L203.18 827.42L206.52 823.56L210.66 818.99L214.22 815.24L217.9 811.55L221.68 807.93L225.57 804.37L229.58 800.9L237.11 794.85L241.47 791.62L245.04 789.11L249.64 786.06L253.41 783.7L261.23 779.17L269.43 774.9L278.02 770.89L285.88 767.6L294.07 764.51L303.85 761.21L312.8 758.52L323.48 755.63L334.68 752.93L347.93 750.07L361.91 747.36L376.64 744.82L390.41 742.72L404.84 740.77L419.97 739L435.83 737.4L452.46 735.96L469.89 734.66L488.16 733.5L507.31 732.44L527.39 731.49L551.14 730.5L605.61 728.65L673.35 726.81L746.15 725.28L819.42 724.15L900.89 723.28" stroke="#00ff00" stroke-width="5.9" stroke-dasharray="5.9 4.34" fill="none"/>
<path transform="scale(1.2 1)" d="M79.6 1214.2h0M81.8 1191.1h0M84.1 1168.7h0M86.3 1147.4h0M88.6 1127.1h0M90.8 1108h0M93.1 1089.5h0M95.3 1071.7h0M97.6 1054.9h0M99.8 1039h0M102.1 1023.4h0M104.3 1008.6h0M106.6 994.7h0M108.8 981.2h0M111.1 968.6h0M113.3 956.5h0M115.6 944.9h0M117.8 933.6h0M120 923.4h0M122.3 913.2h0M124.5 903.6h0M126.8 894.4h0M129 885.7h0M131.3 877.4h0M133.5 869.7h0M135.8 862.1h0M138 855.2h0M140.3 848.3h0M142.5 841.6h0M144.8 835h0M147 828.8h0M149.3 822.8h0M151.5 817.1h0M153.8 811.7h0M156 806.6h0M158.3 801.7h0M160.5 797h0M162.8 792.6h0M165 788.5h0M167.3 784.5h0M169.5 780.7h0M171.8 777.1h0M174 773.8h0M176.2 770.5h0M178.5 767.5h0M180.7 764.6h0M183 761.9h0M185.2 759.4h0M187.5 756.9h0M189.7 754.7h0M192 752.5h0M194.2 750.4h0M196.5 748.5h0M198.7 746.6h0M201 744.9h0M203.2 743.2h0M205.5 741.6h0M207.7 740.1h0M210 738.7h0M212.2 737.4h0M214.5 736.1h0M216.7 734.9h0M219 733.8h0M221.2 732.7h0M223.5 731.7h0M225.7 730.7h0M228 729.8h0M230.2 728.9h0M232.4 728.1h0M234.7 727.3h0M236.9 726.5h0M239.2 725.8h0M241.4 725.2h0M243.7 724.5h0M245.9 724h0M248.2 723.4h0M250.4 722.9h0M252.7 722.4h0M254.9 722h0M257.2 721.5h0M259.4 721.1h0M261.7 720.8h0M263.9 720.4h0M266.2 720.1h0M268.4 719.8h0M270.7 719.5h0M272.9 719.3h0M275.2 719h0M277.4 718.8h0M279.7 718.6h0M281.9 718.4h0M284.2 718.3h0M286.4 718.1h0M288.7 718h0M290.9 717.9h0M293.1 717.7h0M295.4 717.6h0M297.6 717.5h0M299.9 717.5h0M302.1 717.4h0M304.4 717.3h0M306.6 717.3h0M308.9 717.2h0M311.1 717.1h0M313.4 717.1h0M315.6 717.1h0M317.9 717h0M320.1 717h0M322.4 716.9h0M324.6 716.9h0M326.9 716.9h0M329.1 716.9h0M331.4 716.8h0M333.6 716.8h0M335.9 716.8h0M338.1 716.8h0M340.4 716.7h0M342.6 716.7h0M344.9 716.7h0M347.1 716.7h0M349.3 716.7h0M351.6 716.6h0M353.8 716.6h0M356.1 716.6h0M358.3 716.6h0M360.6 716.6h0M362.8 716.5h0M365.1 716.5h0M367.3 716.5h0M369.6 716.5h0M371.8 716.5h0M374.1 716.5h0M376.3 716.4h0M378.6 716.4h0M380.8 716.4h0M383.1 716.4h0M385.3 716.4h0M387.6 716.4h0M389.8 716.4h0M392.1 716.4h0M394.3 716.3h0M396.6 716.3h0M398.8 716.3h0M401.1 716.3h0M403.3 716.3h0M405.5 716.3h0M407.8 716.3h0M410 716.3h0M412.3 716.3h0M414.5 716.2h0M416.8 716.2h0M419 716.2h0M421.3 716.2h0M423.5 716.2h0M425.8 716.2h0M428 716.2h0M430.3 716.2h0M432.5 716.2h0M434.8 716.2h0M437 716.2h0M439.3 716.2h0M441.5 716.1h0M443.8 716.1h0M446 716.1h0M448.3 716.1h0M450.5 716.1h0M452.8 716.1h0M455 716.1h0M457.3 716.1h0M459.5 716.1h0M461.8 716.1h0M464 716.1h0M466.2 716.1h0M468.5 716.1h0M470.7 716.1h0M473 716.1h0M475.2 716.1h0M477.5 716.1h0M479.7 716h0M482 716h0M484.2 716h0M486.5 716h0M488.7 716h0M491 716h0M493.2 716h0M495.5 716h0M497.7 716h0M500 716h0M502.2 716h0M504.5 716h0M506.7 716h0M509 716h0M511.2 716h0M513.5 716h0M515.7 716h0M518 716h0M520.2 716h0M522.4 716h0M524.7 716h0M526.9 716h0M529.2 716h0M531.4 716h0M533.7 716h0M535.9 716h0M538.2 716h0M540.4 716h0M542.7 716h0M544.9 716h0M547.2 716h0M549.4 716h0M551.7 716h0M553.9 715.9h0M556.2 715.9h0M558.4 715.9h0M560.7 715.9h0M562.9 715.9h0M565.2 715.9h0M567.4 715.9h0M569.7 715.9h0M571.9 715.9h0M574.2 715.9h0M576.4 715.9h0M578.6 715.9h0M580.9 715.9h0M583.1 715.9h0M585.4 715.9h0M587.6 715.9h0M589.9 715.9h0M592.1 715.9h0M594.4 715.9h0M596.6 715.9h0M598.9 715.9h0M601.1 715.9h0M603.4 715.9h0M605.6 715.9h0M607.9 715.9h0M610.1 715.9h0M612.4 715.9h0M614.6 715.9h0M616.9 715.9h0M619.1 715.9h0M621.4 715.9h0M623.6 715.9h0M625.9 715.9h0M628.1 715.9h0M630.4 715.9h0M632.6 715.9h0M634.9 715.9h0M637.1 715.9h0M639.3 715.9h0M641.6 715.9h0M643.8 715.9h0M646.1 715.9h0M648.3 715.9h0M650.6 715.9h0M652.8 715.9h0M655.1 715.9h0M657.3 715.9h0M659.6 715.9h0M661.8 715.9h0M664.1 715.9h0M666.3 715.9h0M668.6 715.9h0M670.8 715.9h0M673.1 715.9h0M675.3 715.9h0M677.6 715.9h0M679.8 715.9h0M682.1 715.9h0M684.3 715.9h0M686.6 715.9h0M688.8 715.9h0M691.1 715.9h0M693.3 715.9h0M695.5 715.9h0M697.8 715.9h0M700 715.9h0M702.3 715.9h0M704.5 715.9h0M706.8 715.9h0M709 715.9h0M711.3 715.9h0M713.5 715.9h0M715.8 715.9h0M718 715.9h0M720.3 715.9h0M722.5 715.9h0M724.8 715.9h0M727 715.9h0M729.3 715.9h0M731.5 715.9h0M733.8 715.9h0M736 715.9h0M738.3 715.9h0M740.5 715.9h0M742.8 715.9h0M745 715.9h0M747.3 715.9h0M749.5 715.9h0M751.8 715.9h0" stroke="#0000ff" stroke-width="4.3" stroke-linecap="round" fill="none"/>
</g>
<rect x="706.8" y="798.3" width="166.6" height="129.3" fill="#fff" stroke="#262626" stroke-width="1.6"/>
<g font-family="'Liberation Sans', Arial, Helvetica, sans-serif" fill="#000" stroke="#000" stroke-width="0.3">
<path d="M713.7 813H788.8" stroke="#000000" stroke-width="3.8" stroke-dasharray="14.2 13" fill="none"/>
<text transform="translate(794.2 822) scale(1.35 1)" font-family="'Liberation Serif', 'DejaVu Serif', serif" font-style="italic" font-size="19.2">α</text>
<text transform="translate(808.8 821.8) scale(1.1423 1)" font-size="19.5">=0.75</text>
<path d="M713.7 837.9H788.8" stroke="#ff0000" stroke-width="3.8" stroke-dasharray="14.2 3 7 3" fill="none"/>
<text transform="translate(794.2 846.9) scale(1.35 1)" font-family="'Liberation Serif', 'DejaVu Serif', serif" font-style="italic" font-size="19.2">α</text>
<text transform="translate(808.8 846.7) scale(1.1423 1)" font-size="19.5">=0.80</text>
<path d="M713.7 862.8H788.8" stroke="#ff00ff" stroke-width="3.8" fill="none"/>
<text transform="translate(794.2 871.8) scale(1.35 1)" font-family="'Liberation Serif', 'DejaVu Serif', serif" font-style="italic" font-size="19.2">α</text>
<text transform="translate(808.8 871.6) scale(1.1423 1)" font-size="19.5">=0.85</text>
<path d="M713.7 887.7H788.8" stroke="#00ff00" stroke-width="5.9" stroke-dasharray="5.9 4.34" fill="none"/>
<text transform="translate(794.2 896.7) scale(1.35 1)" font-family="'Liberation Serif', 'DejaVu Serif', serif" font-style="italic" font-size="19.2">α</text>
<text transform="translate(808.8 896.5) scale(1.1423 1)" font-size="19.5">=0.90</text>
<ellipse cx="751.25" cy="912.6" rx="2.58" ry="2.15" fill="#0000ff"/>
<text transform="translate(794.2 921.6) scale(1.35 1)" font-family="'Liberation Serif', 'DejaVu Serif', serif" font-style="italic" font-size="19.2">α</text>
<text transform="translate(808.8 921.4) scale(1.1423 1)" font-size="19.5">=1</text>
</g>
<g font-family="'Liberation Sans', Arial, Helvetica, sans-serif" fill="#000" stroke="#000" stroke-width="0.3">
<text transform="translate(92.8 1244.1) scale(1.1885 1)" font-size="21" text-anchor="middle">0</text>
<text transform="translate(227.68 1244.1) scale(1.1885 1)" font-size="21" text-anchor="middle">5</text>
<text transform="translate(362.57 1244.1) scale(1.1885 1)" font-size="21" text-anchor="middle">10</text>
<text transform="translate(497.45 1244.1) scale(1.1885 1)" font-size="21" text-anchor="middle">15</text>
<text transform="translate(632.33 1244.1) scale(1.1885 1)" font-size="21" text-anchor="middle">20</text>
<text transform="translate(767.22 1244.1) scale(1.1885 1)" font-size="21" text-anchor="middle">25</text>
<text transform="translate(902.1 1244.1) scale(1.1885 1)" font-size="21" text-anchor="middle">30</text>
<text transform="translate(82.4 1222.3) scale(1.1885 1)" font-size="21" text-anchor="end">0</text>
<text transform="translate(82.4 1155.8) scale(1.1885 1)" font-size="21" text-anchor="end">0.1</text>
<text transform="translate(82.4 1089.3) scale(1.1885 1)" font-size="21" text-anchor="end">0.2</text>
<text transform="translate(82.4 1022.8) scale(1.1885 1)" font-size="21" text-anchor="end">0.3</text>
<text transform="translate(82.4 956.3) scale(1.1885 1)" font-size="21" text-anchor="end">0.4</text>
<text transform="translate(82.4 889.8) scale(1.1885 1)" font-size="21" text-anchor="end">0.5</text>
<text transform="translate(82.4 823.3) scale(1.1885 1)" font-size="21" text-anchor="end">0.6</text>
<text transform="translate(82.4 756.8) scale(1.1885 1)" font-size="21" text-anchor="end">0.7</text>
<text transform="translate(82.4 690.3) scale(1.1885 1)" font-size="21" text-anchor="end">0.8</text>
<text transform="translate(496.95 1274.1) scale(1.1538 1)" font-size="23.84" text-anchor="middle">Time(days)</text>
<text transform="translate(497.45 675) scale(1.1538 1)" font-size="23.84" text-anchor="middle">(c)</text>
<text transform="translate(33.3 948) scale(1.2000 1) rotate(-90) scale(0.9615 1)" font-size="23.84" text-anchor="middle">G(t)</text>
</g>
</g>
<g>
<path d="M1202.7 1214v-7.4M1202.7 682v7.4M1364.6 1214v-7.4M1364.6 682v7.4M1526.5 1214v-7.4M1526.5 682v7.4M1688.4 1214v-7.4M1688.4 682v7.4M1850.3 1214v-7.4M1850.3 682v7.4M2012.2 1214v-7.4M2012.2 682v7.4M1202.7 1214h8.88M2012.2 1214h-8.88M1202.7 1138h8.88M2012.2 1138h-8.88M1202.7 1062h8.88M2012.2 1062h-8.88M1202.7 986h8.88M2012.2 986h-8.88M1202.7 910h8.88M2012.2 910h-8.88M1202.7 834h8.88M2012.2 834h-8.88M1202.7 758h8.88M2012.2 758h-8.88M1202.7 682h8.88M2012.2 682h-8.88" stroke="#262626" stroke-width="1.4" fill="none"/>
<rect x="1202.7" y="682" width="809.5" height="532" fill="none" stroke="#262626" stroke-width="1.6"/>
<clipPath id="cd"><rect x="1198.7" y="678" width="817.5" height="540"/></clipPath>
<g clip-path="url(#cd)">
<path d="M1203.51 1214.11L1204.74 1197.25L1207.13 1169.89L1210.32 1130.48L1212.05 1111.68L1213.65 1096.56L1215.41 1081.86L1217.24 1068.41L1219.32 1054.78L1221.68 1040.99L1224.38 1027.04L1227.27 1013.71L1230.54 1000.18L1234 987.24L1237.89 974.05L1241.97 961.44L1246.2 949.51L1250.88 937.48L1255.67 926.27L1260.51 915.94L1265.79 905.65L1268.61 900.54L1271.55 895.45L1277.29 886.22L1280.61 881.24L1283.5 877.12L1289.59 869L1296.14 861.05L1299.59 857.14L1303.18 853.28L1306.89 849.47L1310.74 845.72L1318.04 839.09L1325.83 832.65L1334.14 826.41L1338.99 823.03L1343 820.37L1351.39 815.18L1360.27 810.17L1369.68 805.34L1379.65 800.7L1390.22 796.25L1401.42 792L1411.76 788.43L1424.24 784.52L1435.77 781.24L1449.67 777.67L1462.52 774.67L1478.03 771.4L1492.35 768.67L1509.63 765.67L1525.59 763.16L1544.85 760.4L1562.65 758.09L1581.36 755.88L1601.05 753.76L1621.76 751.74L1643.55 749.81L1666.47 747.97L1690.58 746.23L1715.94 744.58L1742.62 743.03L1770.68 741.56L1795.9 740.36L1822.23 739.23L1854.43 737.97L1908.44 736.14L2012.48 733.05" stroke="#000000" stroke-width="3.8" stroke-dasharray="14.2 13" fill="none"/>
<path d="M1203.51 1214.11L1204.8 1197.29L1208.94 1146.46L1210.26 1131.28L1211.5 1118.35L1213.16 1102.94L1214.95 1088.37L1216.92 1074.01L1219.19 1059.11L1222.11 1041.98L1225.36 1024.73L1229.14 1006.37L1233.1 988.63L1237.13 971.94L1241.12 956.73L1245.26 942.23L1249.5 928.61L1253.78 916L1258.04 904.48L1262.66 893.07L1267.18 882.84L1272.05 872.82L1277.29 863.04L1282.33 854.5L1287.71 846.23L1290.86 841.78L1293.46 838.29L1298.89 831.52L1304.65 825.07L1307.65 821.97L1310.74 818.95L1313.93 816.03L1317.21 813.2L1323.17 808.49L1330.38 803.42L1338.99 797.97L1349.25 792.04L1360.27 786.05L1369.68 781.28L1379.65 776.67L1388.87 772.83L1397.14 769.75L1405.78 766.92L1416.35 763.94L1427.47 761.26L1439.17 758.83L1451.47 756.57L1466.32 754.13L1488.18 750.87L1511.86 747.58L1532.69 744.92L1552.37 742.65L1567.9 741.03L1584.11 739.52L1601.05 738.13L1615.74 737.08L1634.08 735.94L1653.23 734.92L1697.69 732.95L1734.86 731.56L1787.37 729.75L1863.93 727.44L1903.35 726.45L1939.76 725.66L1978.06 724.97L2012.48 724.47" stroke="#ff0000" stroke-width="3.8" stroke-dasharray="14.2 3 7 3" fill="none"/>
<path d="M1203.51 1214.11L1204.89 1196.1L1209.14 1144.32L1210.55 1128.15L1211.91 1114.21L1213.73 1097.61L1215.8 1080.98L1218.01 1065.05L1220.59 1048.25L1224.22 1026.8L1228.38 1004.27L1232.88 981.55L1237.38 960.54L1241.69 942.16L1245.89 925.83L1250.18 910.65L1254.53 896.8L1258.44 885.48L1262.66 874.46L1267.18 863.77L1271.55 854.44L1276.21 845.42L1281.18 836.72L1286.49 828.36L1289.59 823.86L1292.15 820.34L1295.46 816.05L1298.2 812.7L1303.91 806.22L1309.96 800.01L1317.21 793.23L1325.83 785.84L1334.14 779.26L1338.99 775.68L1343 772.86L1347.13 770.1L1351.39 767.4L1359.13 762.87L1366.09 759.22L1373.35 755.82L1380.94 752.7L1388.87 749.9L1395.74 747.83L1402.86 745.98L1411.76 744.03L1421.05 742.33L1430.75 740.83L1440.89 739.49L1453.28 738.07L1470.16 736.37L1496.58 733.92L1518.65 732.03L1537.5 730.56L1570.55 728.33L1603.95 726.55L1643.55 724.97L1690.58 723.56L1758.48 721.98L1840.43 720.41L1923.93 719.11L2012.48 717.99" stroke="#ff00ff" stroke-width="3.8" fill="none"/>
<path d="M1203.51 1214.11L1205.89 1183.74L1208.75 1149.25L1210.86 1125.34L1212.85 1104.46L1215.04 1083.79L1217.35 1064L1219.82 1044.69L1222.4 1026.19L1225.53 1005.67L1228.76 986.27L1232.22 967.15L1235.89 948.43L1239.74 930.29L1243.73 913.01L1247.49 898.11L1251.59 883.27L1255.29 871.06L1258.85 860.28L1262.66 849.79L1266.72 839.68L1270.55 831.07L1274.62 822.89L1278.93 815.21L1283.5 808L1285.88 804.55L1288.96 800.35L1294.79 793.05L1298.2 789.09L1301.73 785.19L1308.42 778.34L1312.32 774.65L1315.55 771.76L1322.3 766.19L1325.83 763.52L1329.45 760.93L1336.06 756.63L1341.99 753.18L1348.19 749.95L1354.66 746.95L1362.57 743.72L1369.68 741.17L1377.11 738.81L1384.86 736.65L1394.34 734.36L1402.86 732.58L1411.76 730.97L1421.05 729.51L1432.41 728L1442.62 726.85L1455.1 725.65L1468.23 724.59L1482.05 723.65L1500.86 722.57L1520.95 721.59L1547.34 720.46L1573.23 719.5L1601.05 718.61L1627.88 717.87L1683.57 716.69L1734.86 715.95L1800.21 715.34L1878.44 714.87L2012.48 714.29" stroke="#00ff00" stroke-width="5.9" stroke-dasharray="5.9 4.34" fill="none"/>
<path transform="scale(1.2 1)" d="M1002.9 1214.1h0M1003.6 1203.6h0M1004.3 1193.3h0M1004.9 1183.1h0M1005.6 1173.2h0M1006.3 1163.3h0M1007 1153.7h0M1007.6 1144.4h0M1008.3 1135.2h0M1009 1126.2h0M1009.7 1117.5h0M1010.3 1108.9h0M1011 1100.3h0M1011.7 1091.9h0M1012.4 1083.9h0M1013 1075.9h0M1013.7 1068h0M1014.4 1060.3h0M1015.1 1052.7h0M1015.7 1045.2h0M1016.4 1038h0M1017.1 1030.8h0M1017.8 1023.8h0M1018.4 1016.8h0M1019.1 1010h0M1019.8 1002.9h0M1020.5 995.7h0M1021.1 988.3h0M1021.8 980.8h0M1022.5 973.3h0M1023.2 966.7h0M1023.8 960.4h0M1024.5 954.3h0M1025.2 948.3h0M1025.9 942.6h0M1026.5 937.1h0M1027.2 931.7h0M1027.9 926.6h0M1028.6 921.5h0M1029.2 916.7h0M1029.9 912h0M1030.6 907.4h0M1031.3 903h0M1031.9 898.6h0M1032.6 894.5h0M1033.3 890.4h0M1034 886.5h0M1034.6 882.6h0M1035.3 878.9h0M1036 875.2h0M1036.7 871.7h0M1037.3 868.2h0M1038 864.8h0M1038.7 861.4h0M1039.4 858.1h0M1040 854.9h0M1040.7 851.8h0M1041.4 848.7h0M1042.1 845.6h0M1042.7 842.6h0M1043.4 839.6h0M1044.1 836.7h0M1044.7 833.8h0M1045.4 831h0M1046.1 828.2h0M1046.8 825.4h0M1047.4 822.7h0M1048.1 820h0M1048.8 817.3h0M1049.5 814.6h0M1050.1 812h0M1050.8 809.4h0M1051.5 806.8h0M1052.2 804.3h0M1052.8 801.8h0M1053.5 799.4h0M1054.2 797h0M1054.9 794.6h0M1055.5 792.3h0M1056.2 790.1h0M1056.9 787.9h0M1057.6 785.7h0M1058.2 783.6h0M1058.9 781.6h0M1059.6 779.6h0M1060.3 777.6h0M1060.9 775.7h0M1061.6 773.9h0M1062.3 772.1h0M1063 770.4h0M1063.6 768.7h0M1064.3 767.1h0M1065 765.5h0M1065.7 764h0M1066.3 762.5h0M1067 761.1h0M1067.7 759.7h0M1068.4 758.3h0M1069 756.9h0M1069.7 755.7h0M1070.4 754.4h0M1071.1 753.2h0M1071.7 752h0M1072.4 750.8h0M1073.1 749.7h0M1073.8 748.6h0M1074.4 747.5h0M1075.1 746.5h0M1075.8 745.5h0M1076.5 744.5h0M1077.1 743.5h0M1077.8 742.6h0M1078.5 741.7h0M1079.2 740.8h0M1079.8 740h0M1080.5 739.1h0M1081.2 738.3h0M1081.9 737.5h0M1082.5 736.8h0M1083.2 736h0M1083.9 735.3h0M1084.5 734.6h0M1085.2 733.9h0M1085.9 733.2h0M1086.6 732.6h0M1087.2 731.9h0M1087.9 731.3h0M1088.6 730.7h0M1089.3 730.1h0M1089.9 729.5h0M1090.6 729h0M1091.3 728.4h0M1092 727.9h0M1092.6 727.4h0M1093.3 726.9h0M1094 726.4h0M1094.7 725.9h0M1095.3 725.4h0M1096 725h0M1096.7 724.5h0M1097.4 724.1h0M1098 723.7h0M1098.7 723.3h0M1099.4 722.9h0M1100.1 722.5h0M1100.7 722.1h0M1101.4 721.8h0M1102.1 721.4h0M1102.8 721h0M1103.4 720.7h0M1104.1 720.4h0M1104.8 720.1h0M1105.5 719.7h0M1106.1 719.4h0M1106.8 719.1h0M1107.5 718.8h0M1108.2 718.6h0M1108.8 718.3h0M1109.5 718h0M1110.2 717.8h0M1110.9 717.5h0M1111.5 717.3h0M1112.2 717h0M1112.9 716.8h0M1113.6 716.6h0M1114.2 716.3h0M1114.9 716.1h0M1115.6 715.9h0M1116.3 715.7h0M1116.9 715.5h0M1117.6 715.3h0M1118.3 715.1h0M1119 714.9h0M1119.6 714.8h0M1120.3 714.6h0M1121 714.4h0M1121.7 714.2h0M1122.3 714.1h0M1123 713.9h0M1123.7 713.8h0M1124.3 713.6h0M1125 713.5h0M1125.7 713.3h0M1126.4 713.2h0M1127 713.1h0M1127.7 712.9h0M1128.4 712.8h0M1129.1 712.7h0M1129.7 712.6h0M1130.4 712.5h0M1131.1 712.4h0M1131.8 712.3h0M1132.4 712.2h0M1133.1 712.1h0M1133.8 712h0M1134.5 711.9h0M1135.1 711.8h0M1135.8 711.7h0M1136.5 711.6h0M1137.2 711.5h0M1137.8 711.4h0M1138.5 711.3h0M1139.2 711.3h0M1139.9 711.2h0M1140.5 711.1h0M1141.2 711h0M1141.9 711h0M1142.6 710.9h0M1143.2 710.9h0M1143.9 710.8h0M1144.6 710.7h0M1145.3 710.7h0M1145.9 710.6h0M1146.6 710.6h0M1147.3 710.5h0M1148 710.5h0M1148.6 710.4h0M1149.3 710.4h0M1150 710.3h0M1150.7 710.3h0M1151.3 710.2h0M1152 710.2h0M1152.7 710.2h0M1153.4 710.1h0M1154 710.1h0M1154.7 710.1h0M1155.4 710h0M1156.1 710h0M1156.7 710h0M1157.4 709.9h0M1158.1 709.9h0M1158.8 709.9h0M1159.4 709.8h0M1160.1 709.8h0M1160.8 709.8h0M1161.5 709.8h0M1162.1 709.8h0M1162.8 709.7h0M1163.5 709.7h0M1164.2 709.7h0M1164.8 709.7h0M1165.5 709.7h0M1166.2 709.6h0M1166.8 709.6h0M1167.5 709.6h0M1168.2 709.6h0M1168.9 709.6h0M1169.5 709.6h0M1170.2 709.6h0M1170.9 709.5h0M1171.6 709.5h0M1172.2 709.5h0M1172.9 709.5h0M1173.6 709.5h0M1174.3 709.5h0M1174.9 709.5h0M1175.6 709.5h0M1176.3 709.5h0M1177 709.5h0M1177.6 709.5h0M1178.3 709.4h0M1179 709.4h0M1179.7 709.4h0M1180.3 709.4h0M1181 709.4h0M1181.7 709.4h0M1182.4 709.4h0M1183 709.4h0M1183.7 709.4h0M1184.4 709.4h0M1185.1 709.4h0M1185.7 709.4h0M1186.4 709.4h0M1187.1 709.4h0M1187.8 709.4h0M1188.4 709.4h0M1189.1 709.4h0M1189.8 709.4h0M1190.5 709.4h0M1191.1 709.4h0M1191.8 709.4h0M1192.5 709.4h0M1193.2 709.4h0M1193.8 709.4h0M1194.5 709.4h0M1195.2 709.4h0M1195.9 709.4h0M1196.5 709.4h0M1197.2 709.4h0M1197.9 709.4h0M1198.6 709.4h0M1199.2 709.4h0M1199.9 709.4h0M1200.6 709.4h0M1201.3 709.4h0M1201.9 709.4h0M1202.6 709.4h0M1203.3 709.4h0M1204 709.4h0M1204.6 709.4h0M1205.3 709.4h0M1206 709.4h0M1206.6 709.4h0M1207.3 709.4h0M1208 709.4h0M1208.7 709.4h0M1209.3 709.4h0M1210 709.4h0M1210.7 709.4h0M1211.4 709.4h0M1212 709.4h0M1212.7 709.4h0M1213.4 709.4h0M1214.1 709.4h0M1214.7 709.4h0M1215.4 709.4h0M1216.1 709.4h0M1216.8 709.4h0M1217.4 709.4h0M1218.1 709.4h0M1218.8 709.4h0M1219.5 709.4h0M1220.1 709.4h0M1220.8 709.4h0M1221.5 709.4h0M1222.2 709.4h0M1222.8 709.4h0M1223.5 709.4h0M1224.2 709.4h0M1224.9 709.4h0M1225.5 709.4h0M1226.2 709.3h0M1226.9 709.3h0M1227.6 709.3h0M1228.2 709.3h0M1228.9 709.3h0M1229.6 709.3h0M1230.3 709.3h0M1230.9 709.3h0M1231.6 709.3h0M1232.3 709.3h0M1233 709.3h0M1233.6 709.3h0M1234.3 709.3h0M1235 709.3h0M1235.7 709.3h0M1236.3 709.3h0M1237 709.3h0M1237.7 709.3h0M1238.4 709.3h0M1239 709.3h0M1239.7 709.3h0M1240.4 709.3h0M1241.1 709.3h0M1241.7 709.3h0M1242.4 709.3h0M1243.1 709.3h0M1243.8 709.3h0M1244.4 709.3h0M1245.1 709.3h0M1245.8 709.3h0M1246.4 709.3h0M1247.1 709.3h0M1247.8 709.3h0M1248.5 709.3h0M1249.1 709.3h0M1249.8 709.3h0M1250.5 709.3h0M1251.2 709.3h0M1251.8 709.3h0M1252.5 709.3h0M1253.2 709.3h0M1253.9 709.3h0M1254.5 709.3h0M1255.2 709.3h0M1255.9 709.3h0M1256.6 709.3h0M1257.2 709.3h0M1257.9 709.3h0M1258.6 709.3h0M1259.3 709.3h0M1259.9 709.3h0M1260.6 709.3h0M1261.3 709.3h0M1262 709.3h0M1262.6 709.3h0M1263.3 709.3h0M1264 709.3h0M1264.7 709.3h0M1265.3 709.3h0M1266 709.3h0M1266.7 709.3h0M1267.4 709.3h0M1268 709.3h0M1268.7 709.3h0M1269.4 709.3h0M1270.1 709.3h0M1270.7 709.3h0M1271.4 709.3h0M1272.1 709.3h0M1272.8 709.3h0M1273.4 709.3h0M1274.1 709.3h0M1274.8 709.3h0M1275.5 709.3h0M1276.1 709.3h0M1276.8 709.3h0M1277.5 709.3h0M1278.2 709.3h0M1278.8 709.3h0M1279.5 709.3h0M1280.2 709.3h0M1280.9 709.3h0M1281.5 709.3h0M1282.2 709.3h0M1282.9 709.3h0M1283.6 709.3h0M1284.2 709.3h0M1284.9 709.3h0M1285.6 709.3h0M1286.2 709.3h0M1286.9 709.3h0M1287.6 709.3h0M1288.3 709.3h0M1288.9 709.3h0M1289.6 709.3h0M1290.3 709.3h0M1291 709.3h0M1291.6 709.3h0M1292.3 709.3h0M1293 709.3h0M1293.7 709.3h0M1294.3 709.3h0M1295 709.3h0M1295.7 709.3h0M1296.4 709.3h0M1297 709.3h0M1297.7 709.3h0M1298.4 709.3h0M1299.1 709.3h0M1299.7 709.3h0M1300.4 709.3h0M1301.1 709.3h0M1301.8 709.3h0M1302.4 709.3h0M1303.1 709.3h0M1303.8 709.3h0M1304.5 709.3h0M1305.1 709.3h0M1305.8 709.3h0M1306.5 709.3h0M1307.2 709.3h0M1307.8 709.3h0M1308.5 709.3h0M1309.2 709.3h0M1309.9 709.3h0M1310.5 709.3h0M1311.2 709.3h0M1311.9 709.3h0M1312.6 709.3h0M1313.2 709.3h0M1313.9 709.3h0M1314.6 709.3h0M1315.3 709.3h0M1315.9 709.3h0M1316.6 709.3h0M1317.3 709.3h0M1318 709.3h0M1318.6 709.3h0M1319.3 709.3h0M1320 709.3h0M1320.7 709.3h0M1321.3 709.3h0M1322 709.3h0M1322.7 709.3h0M1323.4 709.3h0M1324 709.3h0M1324.7 709.3h0M1325.4 709.3h0M1326 709.3h0M1326.7 709.3h0M1327.4 709.3h0M1328.1 709.3h0M1328.7 709.3h0M1329.4 709.3h0M1330.1 709.3h0M1330.8 709.3h0M1331.4 709.3h0M1332.1 709.3h0M1332.8 709.3h0M1333.5 709.3h0M1334.1 709.3h0M1334.8 709.3h0M1335.5 709.3h0M1336.2 709.3h0M1336.8 709.3h0M1337.5 709.3h0M1338.2 709.3h0M1338.9 709.3h0M1339.5 709.3h0M1340.2 709.3h0M1340.9 709.3h0M1341.6 709.3h0M1342.2 709.3h0M1342.9 709.3h0M1343.6 709.3h0M1344.3 709.3h0M1344.9 709.3h0M1345.6 709.3h0M1346.3 709.3h0M1347 709.3h0M1347.6 709.3h0M1348.3 709.3h0M1349 709.3h0M1349.7 709.3h0M1350.3 709.3h0M1351 709.3h0M1351.7 709.3h0M1352.4 709.3h0M1353 709.3h0M1353.7 709.3h0M1354.4 709.3h0M1355.1 709.3h0M1355.7 709.3h0M1356.4 709.3h0M1357.1 709.3h0M1357.8 709.3h0M1358.4 709.3h0M1359.1 709.3h0M1359.8 709.3h0M1360.5 709.3h0M1361.1 709.3h0M1361.8 709.3h0M1362.5 709.3h0M1363.2 709.3h0M1363.8 709.3h0M1364.5 709.3h0M1365.2 709.3h0M1365.9 709.3h0M1366.5 709.3h0M1367.2 709.3h0M1367.9 709.3h0M1368.5 709.3h0M1369.2 709.3h0M1369.9 709.3h0M1370.6 709.2h0M1371.2 709.2h0M1371.9 709.2h0M1372.6 709.2h0M1373.3 709.2h0M1373.9 709.2h0M1374.6 709.2h0M1375.3 709.2h0M1376 709.2h0M1376.6 709.2h0M1377.3 709.2h0M1378 709.2h0M1378.7 709.2h0M1379.3 709.2h0M1380 709.2h0M1380.7 709.2h0M1381.4 709.2h0M1382 709.2h0M1382.7 709.2h0M1383.4 709.2h0M1384.1 709.2h0M1384.7 709.2h0M1385.4 709.2h0M1386.1 709.2h0M1386.8 709.2h0M1387.4 709.2h0M1388.1 709.2h0M1388.8 709.2h0M1389.5 709.2h0M1390.1 709.2h0M1390.8 709.2h0M1391.5 709.2h0M1392.2 709.2h0M1392.8 709.2h0M1393.5 709.2h0M1394.2 709.2h0M1394.9 709.2h0M1395.5 709.2h0M1396.2 709.2h0M1396.9 709.2h0M1397.6 709.2h0M1398.2 709.2h0M1398.9 709.2h0M1399.6 709.2h0M1400.3 709.2h0M1400.9 709.2h0M1401.6 709.2h0M1402.3 709.2h0M1403 709.2h0M1403.6 709.2h0M1404.3 709.2h0M1405 709.2h0M1405.7 709.2h0M1406.3 709.2h0M1407 709.2h0M1407.7 709.2h0M1408.3 709.2h0M1409 709.2h0M1409.7 709.2h0M1410.4 709.2h0M1411 709.2h0M1411.7 709.2h0M1412.4 709.2h0M1413.1 709.2h0M1413.7 709.2h0M1414.4 709.2h0M1415.1 709.2h0M1415.8 709.2h0M1416.4 709.2h0M1417.1 709.2h0M1417.8 709.2h0M1418.5 709.2h0M1419.1 709.2h0M1419.8 709.2h0M1420.5 709.2h0M1421.2 709.2h0M1421.8 709.2h0M1422.5 709.2h0M1423.2 709.2h0M1423.9 709.2h0M1424.5 709.2h0M1425.2 709.2h0M1425.9 709.2h0M1426.6 709.2h0M1427.2 709.2h0M1427.9 709.2h0M1428.6 709.2h0M1429.3 709.2h0M1429.9 709.2h0M1430.6 709.2h0M1431.3 709.2h0M1432 709.2h0M1432.6 709.2h0M1433.3 709.2h0M1434 709.2h0M1434.7 709.2h0M1435.3 709.2h0M1436 709.2h0M1436.7 709.2h0M1437.4 709.2h0M1438 709.2h0M1438.7 709.2h0M1439.4 709.2h0M1440.1 709.2h0M1440.7 709.2h0M1441.4 709.2h0M1442.1 709.2h0M1442.8 709.2h0M1443.4 709.2h0M1444.1 709.2h0M1444.8 709.2h0M1445.5 709.2h0M1446.1 709.2h0M1446.8 709.2h0M1447.5 709.2h0M1448.1 709.2h0M1448.8 709.2h0M1449.5 709.2h0M1450.2 709.2h0M1450.8 709.2h0M1451.5 709.2h0M1452.2 709.2h0M1452.9 709.2h0M1453.5 709.2h0M1454.2 709.2h0M1454.9 709.2h0M1455.6 709.2h0M1456.2 709.2h0M1456.9 709.2h0M1457.6 709.3h0M1458.3 709.3h0M1458.9 709.3h0M1459.6 709.3h0M1460.3 709.3h0M1461 709.3h0M1461.6 709.3h0M1462.3 709.3h0M1463 709.3h0M1463.7 709.3h0M1464.3 709.3h0M1465 709.3h0M1465.7 709.3h0M1466.4 709.3h0M1467 709.3h0M1467.7 709.3h0M1468.4 709.3h0M1469.1 709.3h0M1469.7 709.3h0M1470.4 709.3h0M1471.1 709.3h0M1471.8 709.3h0M1472.4 709.3h0M1473.1 709.3h0M1473.8 709.3h0M1474.5 709.3h0M1475.1 709.3h0M1475.8 709.3h0M1476.5 709.3h0M1477.2 709.3h0M1477.8 709.3h0M1478.5 709.3h0M1479.2 709.3h0M1479.9 709.3h0M1480.5 709.3h0M1481.2 709.3h0M1481.9 709.3h0M1482.6 709.3h0M1483.2 709.3h0M1483.9 709.3h0M1484.6 709.3h0M1485.3 709.3h0M1485.9 709.3h0M1486.6 709.3h0M1487.3 709.3h0M1488 709.3h0M1488.6 709.3h0M1489.3 709.3h0M1490 709.3h0M1490.6 709.3h0M1491.3 709.3h0M1492 709.3h0M1492.7 709.3h0M1493.3 709.3h0M1494 709.3h0M1494.7 709.3h0M1495.4 709.3h0M1496 709.3h0M1496.7 709.3h0M1497.4 709.3h0M1498.1 709.3h0M1498.7 709.3h0M1499.4 709.3h0M1500.1 709.3h0M1500.8 709.3h0M1501.4 709.3h0M1502.1 709.3h0M1502.8 709.3h0M1503.5 709.3h0M1504.1 709.3h0M1504.8 709.3h0M1505.5 709.3h0M1506.2 709.3h0M1506.8 709.3h0M1507.5 709.3h0M1508.2 709.3h0M1508.9 709.3h0M1509.5 709.3h0M1510.2 709.3h0M1510.9 709.3h0M1511.6 709.3h0M1512.2 709.3h0M1512.9 709.3h0M1513.6 709.3h0M1514.3 709.3h0M1514.9 709.3h0M1515.6 709.3h0M1516.3 709.3h0M1517 709.3h0M1517.6 709.3h0M1518.3 709.3h0M1519 709.3h0M1519.7 709.3h0M1520.3 709.3h0M1521 709.3h0M1521.7 709.3h0M1522.4 709.3h0M1523 709.3h0M1523.7 709.3h0M1524.4 709.3h0M1525.1 709.3h0M1525.7 709.3h0M1526.4 709.3h0M1527.1 709.3h0M1527.8 709.3h0M1528.4 709.3h0M1529.1 709.3h0M1529.8 709.3h0M1530.4 709.3h0M1531.1 709.3h0M1531.8 709.3h0M1532.5 709.3h0M1533.1 709.3h0M1533.8 709.3h0M1534.5 709.3h0M1535.2 709.3h0M1535.8 709.3h0M1536.5 709.3h0M1537.2 709.3h0M1537.9 709.3h0M1538.5 709.3h0M1539.2 709.3h0M1539.9 709.3h0M1540.6 709.3h0M1541.2 709.3h0M1541.9 709.3h0M1542.6 709.3h0M1543.3 709.3h0M1543.9 709.3h0M1544.6 709.3h0M1545.3 709.3h0M1546 709.3h0M1546.6 709.3h0M1547.3 709.3h0M1548 709.3h0M1548.7 709.3h0M1549.3 709.3h0M1550 709.3h0M1550.7 709.3h0M1551.4 709.3h0M1552 709.3h0M1552.7 709.3h0M1553.4 709.3h0M1554.1 709.3h0M1554.7 709.3h0M1555.4 709.3h0M1556.1 709.3h0M1556.8 709.3h0M1557.4 709.3h0M1558.1 709.3h0M1558.8 709.3h0M1559.5 709.3h0M1560.1 709.3h0M1560.8 709.3h0M1561.5 709.3h0M1562.2 709.3h0M1562.8 709.3h0M1563.5 709.3h0M1564.2 709.3h0M1564.9 709.3h0M1565.5 709.3h0M1566.2 709.3h0M1566.9 709.3h0M1567.6 709.3h0M1568.2 709.3h0M1568.9 709.3h0M1569.6 709.3h0M1570.2 709.3h0M1570.9 709.3h0M1571.6 709.3h0M1572.3 709.3h0M1572.9 709.3h0M1573.6 709.3h0M1574.3 709.3h0M1575 709.3h0M1575.6 709.3h0M1576.3 709.3h0M1577 709.3h0M1577.7 709.3h0M1578.3 709.3h0M1579 709.3h0M1579.7 709.3h0M1580.4 709.3h0M1581 709.3h0M1581.7 709.3h0M1582.4 709.3h0M1583.1 709.3h0M1583.7 709.3h0M1584.4 709.3h0M1585.1 709.3h0M1585.8 709.3h0M1586.4 709.3h0M1587.1 709.3h0M1587.8 709.3h0M1588.5 709.3h0M1589.1 709.3h0M1589.8 709.3h0M1590.5 709.3h0M1591.2 709.3h0M1591.8 709.3h0M1592.5 709.3h0M1593.2 709.3h0M1593.9 709.3h0M1594.5 709.3h0M1595.2 709.3h0M1595.9 709.3h0M1596.6 709.3h0M1597.2 709.3h0M1597.9 709.3h0M1598.6 709.3h0M1599.3 709.3h0M1599.9 709.3h0M1600.6 709.3h0M1601.3 709.3h0M1602 709.3h0M1602.6 709.3h0M1603.3 709.3h0M1604 709.3h0M1604.7 709.3h0M1605.3 709.3h0M1606 709.3h0M1606.7 709.3h0M1607.4 709.3h0M1608 709.3h0M1608.7 709.3h0M1609.4 709.3h0M1610 709.3h0M1610.7 709.3h0M1611.4 709.3h0M1612.1 709.3h0M1612.7 709.3h0M1613.4 709.3h0M1614.1 709.3h0M1614.8 709.3h0M1615.4 709.3h0M1616.1 709.3h0M1616.8 709.3h0M1617.5 709.3h0M1618.1 709.3h0M1618.8 709.3h0M1619.5 709.3h0M1620.2 709.3h0M1620.8 709.3h0M1621.5 709.3h0M1622.2 709.3h0M1622.9 709.4h0M1623.5 709.4h0M1624.2 709.4h0M1624.9 709.4h0M1625.6 709.4h0M1626.2 709.4h0M1626.9 709.4h0M1627.6 709.4h0M1628.3 709.4h0M1628.9 709.4h0M1629.6 709.4h0M1630.3 709.4h0M1631 709.4h0M1631.6 709.4h0M1632.3 709.4h0M1633 709.4h0M1633.7 709.4h0M1634.3 709.4h0M1635 709.4h0M1635.7 709.4h0M1636.4 709.4h0M1637 709.4h0M1637.7 709.4h0M1638.4 709.4h0M1639.1 709.4h0M1639.7 709.4h0M1640.4 709.4h0M1641.1 709.4h0M1641.8 709.4h0M1642.4 709.4h0M1643.1 709.4h0M1643.8 709.4h0M1644.5 709.4h0M1645.1 709.4h0M1645.8 709.4h0M1646.5 709.4h0M1647.2 709.4h0M1647.8 709.4h0M1648.5 709.4h0M1649.2 709.4h0M1649.9 709.4h0M1650.5 709.4h0M1651.2 709.4h0M1651.9 709.4h0M1652.5 709.4h0M1653.2 709.4h0M1653.9 709.4h0M1654.6 709.4h0M1655.2 709.4h0M1655.9 709.4h0M1656.6 709.4h0M1657.3 709.4h0M1657.9 709.4h0M1658.6 709.4h0M1659.3 709.4h0M1660 709.4h0M1660.6 709.4h0M1661.3 709.4h0M1662 709.4h0M1662.7 709.4h0M1663.3 709.4h0M1664 709.4h0M1664.7 709.4h0M1665.4 709.4h0M1666 709.4h0M1666.7 709.4h0M1667.4 709.4h0M1668.1 709.4h0M1668.7 709.4h0M1669.4 709.4h0M1670.1 709.4h0M1670.8 709.4h0M1671.4 709.4h0M1672.1 709.4h0M1672.8 709.4h0M1673.5 709.4h0M1674.1 709.4h0M1674.8 709.4h0M1675.5 709.4h0M1676.2 709.4h0M1676.8 709.4h0" stroke="#0000ff" stroke-width="4.3" stroke-linecap="round" fill="none"/>
</g>
<rect x="1806.9" y="803.3" width="167" height="129.3" fill="#fff" stroke="#262626" stroke-width="1.6"/>
<g font-family="'Liberation Sans', Arial, Helvetica, sans-serif" fill="#000" stroke="#000" stroke-width="0.3">
<path d="M1813.8 818H1888.9" stroke="#000000" stroke-width="3.8" stroke-dasharray="14.2 13" fill="none"/>
<text transform="translate(1894.3 827) scale(1.35 1)" font-family="'Liberation Serif', 'DejaVu Serif', serif" font-style="italic" font-size="19.2">α</text>
<text transform="translate(1908.9 826.8) scale(1.1423 1)" font-size="19.5">=0.75</text>
<path d="M1813.8 842.9H1888.9" stroke="#ff0000" stroke-width="3.8" stroke-dasharray="14.2 3 7 3" fill="none"/>
<text transform="translate(1894.3 851.9) scale(1.35 1)" font-family="'Liberation Serif', 'DejaVu Serif', serif" font-style="italic" font-size="19.2">α</text>
<text transform="translate(1908.9 851.7) scale(1.1423 1)" font-size="19.5">=0.80</text>
<path d="M1813.8 867.8H1888.9" stroke="#ff00ff" stroke-width="3.8" fill="none"/>
<text transform="translate(1894.3 876.8) scale(1.35 1)" font-family="'Liberation Serif', 'DejaVu Serif', serif" font-style="italic" font-size="19.2">α</text>
<text transform="translate(1908.9 876.6) scale(1.1423 1)" font-size="19.5">=0.85</text>
<path d="M1813.8 892.7H1888.9" stroke="#00ff00" stroke-width="5.9" stroke-dasharray="5.9 4.34" fill="none"/>
<text transform="translate(1894.3 901.7) scale(1.35 1)" font-family="'Liberation Serif', 'DejaVu Serif', serif" font-style="italic" font-size="19.2">α</text>
<text transform="translate(1908.9 901.5) scale(1.1423 1)" font-size="19.5">=0.90</text>
<ellipse cx="1851.35" cy="917.6" rx="2.58" ry="2.15" fill="#0000ff"/>
<text transform="translate(1894.3 926.6) scale(1.35 1)" font-family="'Liberation Serif', 'DejaVu Serif', serif" font-style="italic" font-size="19.2">α</text>
<text transform="translate(1908.9 926.4) scale(1.1423 1)" font-size="19.5">=1</text>
</g>
<g font-family="'Liberation Sans', Arial, Helvetica, sans-serif" fill="#000" stroke="#000" stroke-width="0.3">
<text transform="translate(1202.7 1244.1) scale(1.1885 1)" font-size="21" text-anchor="middle">0</text>
<text transform="translate(1364.6 1244.1) scale(1.1885 1)" font-size="21" text-anchor="middle">20</text>
<text transform="translate(1526.5 1244.1) scale(1.1885 1)" font-size="21" text-anchor="middle">40</text>
<text transform="translate(1688.4 1244.1) scale(1.1885 1)" font-size="21" text-anchor="middle">60</text>
<text transform="translate(1850.3 1244.1) scale(1.1885 1)" font-size="21" text-anchor="middle">80</text>
<text transform="translate(2012.2 1244.1) scale(1.1885 1)" font-size="21" text-anchor="middle">100</text>
<text transform="translate(1192.3 1222.3) scale(1.1885 1)" font-size="21" text-anchor="end">0</text>
<text transform="translate(1192.3 1146.3) scale(1.1885 1)" font-size="21" text-anchor="end">0.5</text>
<text transform="translate(1192.3 1070.3) scale(1.1885 1)" font-size="21" text-anchor="end">1</text>
<text transform="translate(1192.3 994.3) scale(1.1885 1)" font-size="21" text-anchor="end">1.5</text>
<text transform="translate(1192.3 918.3) scale(1.1885 1)" font-size="21" text-anchor="end">2</text>
<text transform="translate(1192.3 842.3) scale(1.1885 1)" font-size="21" text-anchor="end">2.5</text>
<text transform="translate(1192.3 766.3) scale(1.1885 1)" font-size="21" text-anchor="end">3</text>
<text transform="translate(1192.3 690.3) scale(1.1885 1)" font-size="21" text-anchor="end">3.5</text>
<text transform="translate(1606.95 1274.1) scale(1.1538 1)" font-size="23.84" text-anchor="middle">Time(days)</text>
<text transform="translate(1607.45 675) scale(1.1538 1)" font-size="23.84" text-anchor="middle">(d)</text>
<text transform="translate(1143.1 948) scale(1.2000 1) rotate(-90) scale(0.9615 1)" font-size="23.84" text-anchor="middle">C(t)</text>
</g>
</g>
<g>
<path d="M92.8 1871.8v-7.4M92.8 1339.5v7.4M227.68 1871.8v-7.4M227.68 1339.5v7.4M362.57 1871.8v-7.4M362.57 1339.5v7.4M497.45 1871.8v-7.4M497.45 1339.5v7.4M632.33 1871.8v-7.4M632.33 1339.5v7.4M767.22 1871.8v-7.4M767.22 1339.5v7.4M902.1 1871.8v-7.4M902.1 1339.5v7.4M92.8 1871.8h8.88M902.1 1871.8h-8.88M92.8 1818.57h8.88M902.1 1818.57h-8.88M92.8 1765.34h8.88M902.1 1765.34h-8.88M92.8 1712.11h8.88M902.1 1712.11h-8.88M92.8 1658.88h8.88M902.1 1658.88h-8.88M92.8 1605.65h8.88M902.1 1605.65h-8.88M92.8 1552.42h8.88M902.1 1552.42h-8.88M92.8 1499.19h8.88M902.1 1499.19h-8.88M92.8 1445.96h8.88M902.1 1445.96h-8.88M92.8 1392.73h8.88M902.1 1392.73h-8.88M92.8 1339.5h8.88M902.1 1339.5h-8.88" stroke="#262626" stroke-width="1.4" fill="none"/>
<rect x="92.8" y="1339.5" width="809.3" height="532.3" fill="none" stroke="#262626" stroke-width="1.6"/>
<clipPath id="ce"><rect x="88.8" y="1335.5" width="817.3" height="540.3"/></clipPath>
<g clip-path="url(#ce)">
<path d="M95.5 1871.8L99.52 1795.63L102.74 1740.37L104.45 1713.64L106.17 1688.77L107.91 1665.26L109.54 1645.02L111.21 1625.96L112.91 1608.38L114.62 1592.49L116.32 1578.38L118.14 1565.03L119.93 1553.58L121.84 1542.86L123.88 1532.83L126.25 1522.61L129.03 1512.31L131.78 1503.42L134.99 1494.34L138.46 1485.71L142.51 1476.76L146.9 1468.07L151.32 1460.25L156.09 1452.71L160.82 1446.03L165.91 1439.65L170.9 1434.08L176.22 1428.81L181.9 1423.82L187.96 1419.1L194.43 1414.65L201.33 1410.44L208.69 1406.45L216.54 1402.68L225.71 1398.79L234.71 1395.41L245.21 1391.9L255.51 1388.83L266.5 1385.9L278.23 1383.12L289.58 1380.73L302.85 1378.25L315.69 1376.14L329.3 1374.16L343.75 1372.33L359.07 1370.64L375.32 1369.09L394.34 1367.52L414.64 1366.07L438.33 1364.57L463.76 1363.12L493.41 1361.59L522.88 1360.22L551.78 1359.03L579.74 1358.03L631.21 1356.52L691.64 1355.13L837.94 1352.49L902.17 1351.53" stroke="#000000" stroke-width="3.8" stroke-dasharray="14.2 13" fill="none"/>
<path d="M95.5 1871.8L96.6 1847.01L97.86 1822.08L99.28 1796.66L100.96 1769.16L103.14 1736.07L105.82 1697.68L108.5 1660.87L110.64 1633.54L112.29 1614.13L113.82 1597.7L115.32 1583.09L116.91 1569.17L118.46 1557.34L120.1 1546.39L121.84 1536.26L123.69 1526.85L126.05 1516.42L128.81 1505.96L131.78 1496.17L135.25 1486.11L139.02 1476.44L143.11 1467.09L147.56 1457.96L152.39 1448.98L157.63 1440.05L162.48 1432.49L167.24 1425.79L169.97 1422.28L172.32 1419.46L174.74 1416.74L177.23 1414.12L179.79 1411.61L182.97 1408.72L185.71 1406.41L188.53 1404.2L191.44 1402.07L195.04 1399.63L201.33 1395.81L208 1392.27L215.08 1388.99L223.36 1385.66L231.37 1382.86L240.74 1380.03L249.81 1377.67L260.42 1375.3L270.68 1373.34L282.69 1371.36L295.5 1369.53L310.46 1367.65L327.91 1365.71L345.24 1363.99L363.85 1362.34L383.81 1360.78L403.4 1359.43L422.35 1358.28L444.52 1357.08L465.96 1356.07L491.05 1355.03L515.32 1354.16L568.36 1352.62L618.63 1351.52L674.21 1350.6L902.17 1347.82" stroke="#ff0000" stroke-width="3.8" stroke-dasharray="14.2 3 7 3" fill="none"/>
<path d="M95.5 1871.8L96.67 1846.18L97.97 1820.56L99.52 1793.24L101.25 1764.99L103.64 1728.69L106.52 1687.29L108.71 1657.51L110.75 1631.73L112.41 1612.52L114.08 1594.89L115.74 1579.05L117.37 1565.14L119.11 1551.88L120.96 1539.33L122.94 1527.49L125.05 1516.41L127.51 1505.21L130.38 1494.08L133.48 1483.81L136.83 1474.17L140.73 1464.21L145.61 1452.95L152.39 1438.35L157.63 1427.94L161.65 1420.72L165.47 1414.59L169.51 1408.87L171.84 1405.87L174.25 1403L178.76 1398.13L181.37 1395.59L184.06 1393.16L189.11 1389.06L192.03 1386.93L195.04 1384.9L200.04 1381.85L205.28 1379.04L210.78 1376.44L217.28 1373.77L223.36 1371.59L230.55 1369.34L238.13 1367.28L246.12 1365.39L254.55 1363.65L263.44 1362.06L272.81 1360.61L282.69 1359.31L293.11 1358.17L302.85 1357.29L314.37 1356.44L326.52 1355.69L346.74 1354.65L377 1353.25L428.25 1351.21L481.74 1349.55L535.79 1348.31L597.32 1347.31L670.78 1346.46L762.78 1345.67L902.17 1344.67" stroke="#ff00ff" stroke-width="3.8" fill="none"/>
<path d="M95.5 1871.8L96.79 1843.88L98.21 1816.33L99.81 1788.1L101.6 1758.92L103.71 1727.08L105.99 1694.68L108.5 1661.02L110.75 1632.82L112.66 1610.66L114.49 1591.13L116.32 1573.15L118.14 1556.93L120.1 1541.29L122.02 1527.61L124.07 1514.66L126.05 1503.63L128.15 1493.39L130.61 1483.1L133.48 1472.77L136.56 1463.04L141.02 1450.31L145.61 1438.28L149.92 1428.03L152.02 1423.45L154.21 1419L158.02 1411.95L162.06 1405.35L166.35 1399.21L170.43 1394.07L172.79 1391.37L175.22 1388.78L177.73 1386.29L180.31 1383.92L182.97 1381.65L185.71 1379.48L190.84 1375.85L195.64 1372.89L201.32 1369.86L206.63 1367.41L212.9 1364.92L218.77 1362.93L225.71 1360.93L233.02 1359.16L240.74 1357.6L248.87 1356.24L257.45 1355.04L267.53 1353.88L278.22 1352.86L290.73 1351.87L304.09 1350.99L336.4 1349.31L378.67 1347.61L424.28 1346.22L472.61 1345.2L522.85 1344.51L579.7 1344.05L650.6 1343.75L902.1 1343.4" stroke="#00ff00" stroke-width="5.9" stroke-dasharray="5.9 4.34" fill="none"/>
<path transform="scale(1.2 1)" d="M79.6 1871.8h0M81.8 1818.6h0M84.1 1770.7h0M86.3 1727.5h0M88.6 1688.7h0M90.8 1653.8h0M93.1 1622.4h0M95.3 1594.1h0M97.6 1568.6h0M99.8 1545.7h0M102.1 1525.1h0M104.3 1506.5h0M106.6 1489.8h0M108.8 1474.8h0M111.1 1461.3h0M113.3 1449.1h0M115.6 1438.1h0M117.8 1428.3h0M120 1419.4h0M122.3 1411.4h0M124.5 1404.2h0M126.8 1397.7h0M129 1391.9h0M131.3 1386.7h0M133.5 1382h0M135.8 1377.7h0M138 1373.9h0M140.3 1370.5h0M142.5 1367.4h0M144.8 1364.6h0M147 1362.1h0M149.3 1359.8h0M151.5 1357.8h0M153.8 1355.9h0M156 1354.3h0M158.3 1352.8h0M160.5 1351.5h0M162.8 1350.3h0M165 1349.2h0M167.3 1348.2h0M169.5 1347.4h0M171.8 1346.6h0M174 1345.9h0M176.2 1345.2h0M178.5 1344.7h0M180.7 1344.1h0M183 1343.7h0M185.2 1343.3h0M187.5 1342.9h0M189.7 1342.5h0M192 1342.2h0M194.2 1342h0M196.5 1341.7h0M198.7 1341.5h0M201 1341.3h0M203.2 1341.1h0M205.5 1341h0M207.7 1340.8h0M210 1340.7h0M212.2 1340.6h0M214.5 1340.5h0M216.7 1340.4h0M219 1340.3h0M221.2 1340.2h0M223.5 1340.1h0M225.7 1340.1h0M228 1340h0M230.2 1340h0M232.5 1339.9h0M234.7 1339.9h0M236.9 1339.8h0M239.2 1339.8h0M241.4 1339.8h0M243.7 1339.7h0M245.9 1339.7h0M248.2 1339.7h0M250.4 1339.7h0M252.7 1339.7h0M254.9 1339.6h0M257.2 1339.6h0M259.4 1339.6h0M261.7 1339.6h0M263.9 1339.6h0M266.2 1339.6h0M268.4 1339.6h0M270.7 1339.6h0M272.9 1339.6h0M275.2 1339.6h0M277.4 1339.6h0M279.7 1339.5h0M281.9 1339.5h0M284.2 1339.5h0M286.4 1339.5h0M288.7 1339.5h0M290.9 1339.5h0M293.1 1339.5h0M295.4 1339.5h0M297.6 1339.5h0M299.9 1339.5h0M302.1 1339.5h0M304.4 1339.5h0M306.6 1339.5h0M308.9 1339.5h0M311.1 1339.5h0M313.4 1339.5h0M315.6 1339.5h0M317.9 1339.5h0M320.1 1339.5h0M322.4 1339.5h0M324.6 1339.5h0M326.9 1339.5h0M329.1 1339.5h0M331.4 1339.5h0M333.6 1339.5h0M335.9 1339.5h0M338.1 1339.5h0M340.4 1339.5h0M342.6 1339.5h0M344.9 1339.5h0M347.1 1339.5h0M349.4 1339.5h0M351.6 1339.5h0M353.8 1339.5h0M356.1 1339.5h0M358.3 1339.5h0M360.6 1339.5h0M362.8 1339.5h0M365.1 1339.5h0M367.3 1339.5h0M369.6 1339.5h0M371.8 1339.5h0M374.1 1339.5h0M376.3 1339.5h0M378.6 1339.5h0M380.8 1339.5h0M383.1 1339.5h0M385.3 1339.5h0M387.6 1339.5h0M389.8 1339.5h0M392.1 1339.5h0M394.3 1339.5h0M396.6 1339.5h0M398.8 1339.5h0M401.1 1339.5h0M403.3 1339.5h0M405.6 1339.5h0M407.8 1339.5h0M410 1339.5h0M412.3 1339.5h0M414.5 1339.5h0M416.8 1339.5h0M419 1339.5h0M421.3 1339.5h0M423.5 1339.5h0M425.8 1339.5h0M428 1339.5h0M430.3 1339.5h0M432.5 1339.5h0M434.8 1339.5h0M437 1339.5h0M439.3 1339.5h0M441.5 1339.5h0M443.8 1339.5h0M446 1339.5h0M448.3 1339.5h0M450.5 1339.5h0M452.8 1339.5h0M455 1339.5h0M457.3 1339.5h0M459.5 1339.5h0M461.8 1339.5h0M464 1339.5h0M466.3 1339.5h0M468.5 1339.5h0M470.7 1339.5h0M473 1339.5h0M475.2 1339.5h0M477.5 1339.5h0M479.7 1339.5h0M482 1339.5h0M484.2 1339.5h0M486.5 1339.5h0M488.7 1339.5h0M491 1339.5h0M493.2 1339.5h0M495.5 1339.5h0M497.7 1339.5h0M500 1339.5h0M502.2 1339.5h0M504.5 1339.5h0M506.7 1339.5h0M509 1339.5h0M511.2 1339.5h0M513.5 1339.5h0M515.7 1339.5h0M518 1339.5h0M520.2 1339.5h0M522.5 1339.5h0M524.7 1339.5h0M527 1339.5h0M529.2 1339.5h0M531.4 1339.5h0M533.7 1339.5h0M535.9 1339.5h0M538.2 1339.5h0M540.4 1339.5h0M542.7 1339.5h0M544.9 1339.5h0M547.2 1339.5h0M549.4 1339.5h0M551.7 1339.5h0M553.9 1339.5h0M556.2 1339.5h0M558.4 1339.5h0M560.7 1339.5h0M562.9 1339.5h0M565.2 1339.5h0M567.4 1339.5h0M569.7 1339.5h0M571.9 1339.5h0M574.2 1339.5h0M576.4 1339.5h0M578.7 1339.5h0M580.9 1339.5h0M583.2 1339.5h0M585.4 1339.5h0M587.6 1339.5h0M589.9 1339.5h0M592.1 1339.5h0M594.4 1339.5h0M596.6 1339.5h0M598.9 1339.5h0M601.1 1339.5h0M603.4 1339.5h0M605.6 1339.5h0M607.9 1339.5h0M610.1 1339.5h0M612.4 1339.5h0M614.6 1339.5h0M616.9 1339.5h0M619.1 1339.5h0M621.4 1339.5h0M623.6 1339.5h0M625.9 1339.5h0M628.1 1339.5h0M630.4 1339.5h0M632.6 1339.5h0M634.9 1339.5h0M637.1 1339.5h0M639.4 1339.5h0M641.6 1339.5h0M643.9 1339.5h0M646.1 1339.5h0M648.3 1339.5h0M650.6 1339.5h0M652.8 1339.5h0M655.1 1339.5h0M657.3 1339.5h0M659.6 1339.5h0M661.8 1339.5h0M664.1 1339.5h0M666.3 1339.5h0M668.6 1339.5h0M670.8 1339.5h0M673.1 1339.5h0M675.3 1339.5h0M677.6 1339.5h0M679.8 1339.5h0M682.1 1339.5h0M684.3 1339.5h0M686.6 1339.5h0M688.8 1339.5h0M691.1 1339.5h0M693.3 1339.5h0M695.6 1339.5h0M697.8 1339.5h0M700.1 1339.5h0M702.3 1339.5h0M704.5 1339.5h0M706.8 1339.5h0M709 1339.5h0M711.3 1339.5h0M713.5 1339.5h0M715.8 1339.5h0M718 1339.5h0M720.3 1339.5h0M722.5 1339.5h0M724.8 1339.5h0M727 1339.5h0M729.3 1339.5h0M731.5 1339.5h0M733.8 1339.5h0M736 1339.5h0M738.3 1339.5h0M740.5 1339.5h0M742.8 1339.5h0M745 1339.5h0M747.3 1339.5h0M749.5 1339.5h0M751.8 1339.5h0" stroke="#0000ff" stroke-width="4.3" stroke-linecap="round" fill="none"/>
</g>
<rect x="708.1" y="1413.6" width="167.1" height="129.3" fill="#fff" stroke="#262626" stroke-width="1.6"/>
<g font-family="'Liberation Sans', Arial, Helvetica, sans-serif" fill="#000" stroke="#000" stroke-width="0.3">
<path d="M715 1428.3H790.1" stroke="#000000" stroke-width="3.8" stroke-dasharray="14.2 13" fill="none"/>
<text transform="translate(795.5 1437.3) scale(1.35 1)" font-family="'Liberation Serif', 'DejaVu Serif', serif" font-style="italic" font-size="19.2">α</text>
<text transform="translate(810.1 1437.1) scale(1.1423 1)" font-size="19.5">=0.75</text>
<path d="M715 1453.2H790.1" stroke="#ff0000" stroke-width="3.8" stroke-dasharray="14.2 3 7 3" fill="none"/>
<text transform="translate(795.5 1462.2) scale(1.35 1)" font-family="'Liberation Serif', 'DejaVu Serif', serif" font-style="italic" font-size="19.2">α</text>
<text transform="translate(810.1 1462) scale(1.1423 1)" font-size="19.5">=0.80</text>
<path d="M715 1478.1H790.1" stroke="#ff00ff" stroke-width="3.8" fill="none"/>
<text transform="translate(795.5 1487.1) scale(1.35 1)" font-family="'Liberation Serif', 'DejaVu Serif', serif" font-style="italic" font-size="19.2">α</text>
<text transform="translate(810.1 1486.9) scale(1.1423 1)" font-size="19.5">=0.85</text>
<path d="M715 1503H790.1" stroke="#00ff00" stroke-width="5.9" stroke-dasharray="5.9 4.34" fill="none"/>
<text transform="translate(795.5 1512) scale(1.35 1)" font-family="'Liberation Serif', 'DejaVu Serif', serif" font-style="italic" font-size="19.2">α</text>
<text transform="translate(810.1 1511.8) scale(1.1423 1)" font-size="19.5">=0.90</text>
<ellipse cx="752.55" cy="1527.9" rx="2.58" ry="2.15" fill="#0000ff"/>
<text transform="translate(795.5 1536.9) scale(1.35 1)" font-family="'Liberation Serif', 'DejaVu Serif', serif" font-style="italic" font-size="19.2">α</text>
<text transform="translate(810.1 1536.7) scale(1.1423 1)" font-size="19.5">=1</text>
</g>
<g font-family="'Liberation Sans', Arial, Helvetica, sans-serif" fill="#000" stroke="#000" stroke-width="0.3">
<text transform="translate(92.8 1900.8) scale(1.1885 1)" font-size="21" text-anchor="middle">0</text>
<text transform="translate(227.68 1900.8) scale(1.1885 1)" font-size="21" text-anchor="middle">5</text>
<text transform="translate(362.57 1900.8) scale(1.1885 1)" font-size="21" text-anchor="middle">10</text>
<text transform="translate(497.45 1900.8) scale(1.1885 1)" font-size="21" text-anchor="middle">15</text>
<text transform="translate(632.33 1900.8) scale(1.1885 1)" font-size="21" text-anchor="middle">20</text>
<text transform="translate(767.22 1900.8) scale(1.1885 1)" font-size="21" text-anchor="middle">25</text>
<text transform="translate(902.1 1900.8) scale(1.1885 1)" font-size="21" text-anchor="middle">30</text>
<text transform="translate(82.4 1880.1) scale(1.1885 1)" font-size="21" text-anchor="end">0</text>
<text transform="translate(82.4 1826.87) scale(1.1885 1)" font-size="21" text-anchor="end">0.02</text>
<text transform="translate(82.4 1773.64) scale(1.1885 1)" font-size="21" text-anchor="end">0.04</text>
<text transform="translate(82.4 1720.41) scale(1.1885 1)" font-size="21" text-anchor="end">0.06</text>
<text transform="translate(82.4 1667.18) scale(1.1885 1)" font-size="21" text-anchor="end">0.08</text>
<text transform="translate(82.4 1613.95) scale(1.1885 1)" font-size="21" text-anchor="end">0.1</text>
<text transform="translate(82.4 1560.72) scale(1.1885 1)" font-size="21" text-anchor="end">0.12</text>
<text transform="translate(82.4 1507.49) scale(1.1885 1)" font-size="21" text-anchor="end">0.14</text>
<text transform="translate(82.4 1454.26) scale(1.1885 1)" font-size="21" text-anchor="end">0.16</text>
<text transform="translate(82.4 1401.03) scale(1.1885 1)" font-size="21" text-anchor="end">0.18</text>
<text transform="translate(82.4 1347.8) scale(1.1885 1)" font-size="21" text-anchor="end">0.2</text>
<text transform="translate(496.95 1931.3) scale(1.1538 1)" font-size="23.84" text-anchor="middle">Time(days)</text>
<text transform="translate(497.45 1332.5) scale(1.1538 1)" font-size="23.84" text-anchor="middle">(e)</text>
<text transform="translate(20.2 1605.65) scale(1.2000 1) rotate(-90) scale(0.9615 1)" font-size="23.84" text-anchor="middle">P(t)</text>
</g>
</g>
</g></svg></body></html>
